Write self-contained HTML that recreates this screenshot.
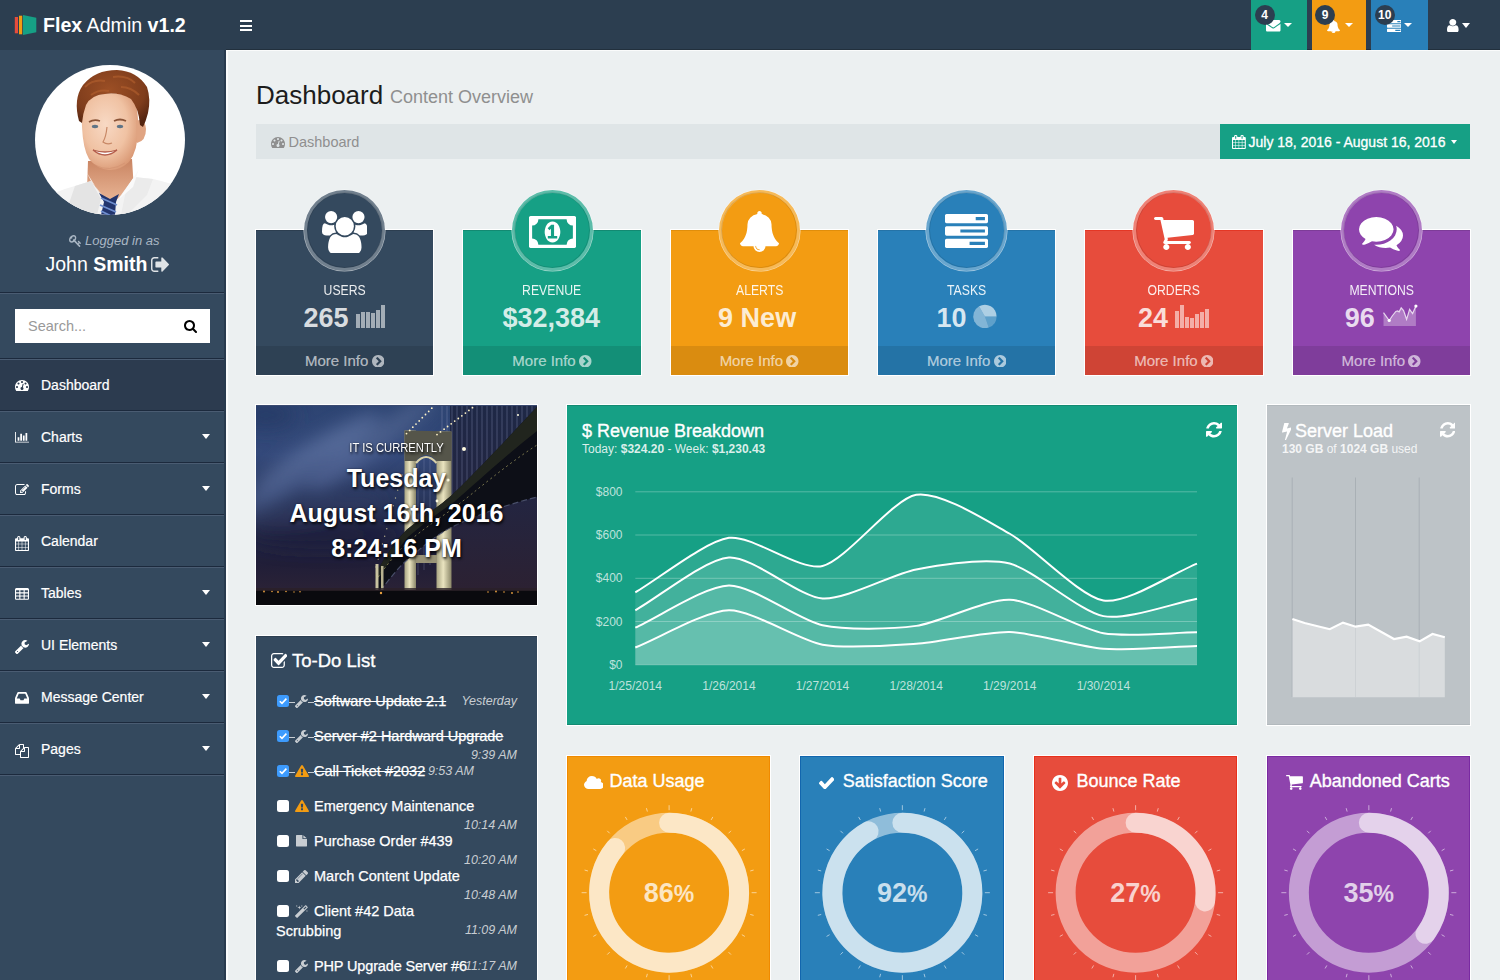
<!DOCTYPE html>
<html><head><meta charset="utf-8"><title>Flex Admin - Dashboard</title>
<style>
*{margin:0;padding:0;box-sizing:border-box}
html,body{width:1500px;height:980px;overflow:hidden;background:#ecf0f1;font-family:"Liberation Sans", Arial, sans-serif}
.a{position:absolute}
.t{position:absolute;white-space:nowrap;line-height:1}
#nav{position:absolute;left:0;top:0;width:1500px;height:50px;background:#2c3e50}
#side{position:absolute;left:0;top:50px;width:226px;height:930px;background:#34495e}
.sep{position:absolute;left:0;width:225px;height:1px;background:#2c3e50}
.sepl{position:absolute;left:0;width:225px;height:1px;background:#3d5166}
.mi{position:absolute;left:0;width:225px;height:52px}
.mi .lbl{position:absolute;left:41px;top:19px;font-size:14px;font-weight:700;color:#fff;line-height:1}
.caret{position:absolute;width:0;height:0;border-left:4.5px solid transparent;border-right:4.5px solid transparent;border-top:5px solid #fff}
</style></head>
<body>
<div id="nav"><svg class="a" style="left:0;top:0" width="40" height="50"><rect x="14.8" y="17" width="3.2" height="16.3" fill="#e74c3c"/><rect x="19" y="15.7" width="3.2" height="18.6" fill="#f39c12"/><polygon points="23,15 36.3,17.7 36.3,32.3 23,35" fill="#16a085"/></svg><div class="t" style="left:43px;top:15.5px;font-size:19.6px;color:#fff;letter-spacing:0"><b>Flex</b> <span style="font-weight:400">Admin</span> <b>v1.2</b></div><div class="a" style="left:240px;top:20px;width:12px;height:2px;background:#fff"></div><div class="a" style="left:240px;top:24.5px;width:12px;height:2px;background:#fff"></div><div class="a" style="left:240px;top:29px;width:12px;height:2px;background:#fff"></div><div class="a" style="left:226px;top:48.5px;width:1274px;height:1.5px;background:#22303d"></div><div class="a" style="left:1251px;top:0;width:56.2px;height:50px;background:#16a085"></div><svg style="position:absolute;left:1266.20px;top:20.00px;width:14.50px;height:11.60px;" viewBox="0 256 1792 1408" preserveAspectRatio="none"><path fill="#fff" d="M1792 710V1504Q1792 1570 1745 1617Q1698 1664 1632 1664H160Q94 1664 47 1617Q0 1570 0 1504V710Q44 759 101 797Q463 1043 598 1142Q655 1184 690 1208Q726 1231 785 1256Q844 1280 895 1280H896H897Q948 1280 1007 1256Q1066 1231 1102 1208Q1137 1184 1194 1142Q1364 1019 1692 797Q1749 758 1792 710ZM1792 416Q1792 495 1743 567Q1694 639 1621 690Q1245 951 1153 1015Q1143 1022 1110 1046Q1078 1069 1056 1084Q1035 1098 1004 1116Q974 1134 947 1143Q920 1152 897 1152H896H895Q872 1152 845 1143Q818 1134 788 1116Q757 1098 736 1084Q714 1069 682 1046Q649 1022 639 1015Q548 951 377 832Q206 714 172 690Q110 648 55 574Q0 501 0 438Q0 360 42 308Q83 256 160 256H1632Q1697 256 1744 303Q1792 350 1792 416Z"/></svg><div class="a" style="left:1284px;top:23.2px;width:0;height:0;border-left:4.25px solid transparent;border-right:4.25px solid transparent;border-top:4.8px solid #fff"></div><div class="a" style="left:1254.5px;top:4.7px;width:20px;height:20px;border-radius:50%;background:#2c3e50;color:#fff;font-size:12px;font-weight:700;text-align:center;line-height:20px">4</div><div class="a" style="left:1311.7px;top:0;width:54.6px;height:50px;background:#f39c12"></div><svg style="position:absolute;left:1327.10px;top:19.50px;width:13.00px;height:13.00px;" viewBox="64 0.0 1664 1792.0" preserveAspectRatio="none"><path fill="#fff" d="M896 1680Q837 1680 794 1638Q752 1595 752 1536Q752 1520 736 1520Q720 1520 720 1536Q720 1609 772 1660Q823 1712 896 1712Q912 1712 912 1696Q912 1680 896 1680ZM1728 1408Q1728 1460 1690 1498Q1652 1536 1600 1536H1152Q1152 1642 1077 1717Q1002 1792 896 1792Q790 1792 715 1717Q640 1642 640 1536H192Q140 1536 102 1498Q64 1460 64 1408Q114 1366 155 1320Q196 1274 240 1200Q284 1127 314 1042Q345 957 364 836Q384 715 384 576Q384 424 501 294Q618 163 808 135Q800 116 800 96Q800 56 828 28Q856 0 896 0Q936 0 964 28Q992 56 992 96Q992 116 984 135Q1174 163 1291 294Q1408 424 1408 576Q1408 715 1428 836Q1447 957 1478 1042Q1508 1127 1552 1200Q1596 1274 1637 1320Q1678 1366 1728 1408Z"/></svg><div class="a" style="left:1344.7px;top:23.2px;width:0;height:0;border-left:4.25px solid transparent;border-right:4.25px solid transparent;border-top:4.8px solid #fff"></div><div class="a" style="left:1315.2px;top:4.7px;width:20px;height:20px;border-radius:50%;background:#2c3e50;color:#fff;font-size:12px;font-weight:700;text-align:center;line-height:20px">9</div><div class="a" style="left:1371.2px;top:0;width:56.4px;height:50px;background:#2980b9"></div><svg style="position:absolute;left:1386.70px;top:19.50px;width:14.50px;height:12.00px;" viewBox="0 128 1792 1408" preserveAspectRatio="none"><path fill="#fff" d="M1024 1408H1664V1280H1024ZM640 896H1664V768H640ZM1280 384H1664V256H1280ZM1792 1216V1472Q1792 1498 1773 1517Q1754 1536 1728 1536H64Q38 1536 19 1517Q0 1498 0 1472V1216Q0 1190 19 1171Q38 1152 64 1152H1728Q1754 1152 1773 1171Q1792 1190 1792 1216ZM1792 704V960Q1792 986 1773 1005Q1754 1024 1728 1024H64Q38 1024 19 1005Q0 986 0 960V704Q0 678 19 659Q38 640 64 640H1728Q1754 640 1773 659Q1792 678 1792 704ZM1792 192V448Q1792 474 1773 493Q1754 512 1728 512H64Q38 512 19 493Q0 474 0 448V192Q0 166 19 147Q38 128 64 128H1728Q1754 128 1773 147Q1792 166 1792 192Z"/></svg><div class="a" style="left:1404.2px;top:23.2px;width:0;height:0;border-left:4.25px solid transparent;border-right:4.25px solid transparent;border-top:4.8px solid #fff"></div><div class="a" style="left:1374.7px;top:4.7px;width:20px;height:20px;border-radius:50%;background:#2c3e50;color:#fff;font-size:12px;font-weight:700;text-align:center;line-height:20px">10</div><svg style="position:absolute;left:1447.00px;top:18.60px;width:11.60px;height:13.40px;" viewBox="0 128.0 1280 1536.0" preserveAspectRatio="none"><path fill="#fff" d="M1280 1399Q1280 1508 1218 1586Q1155 1664 1067 1664H213Q125 1664 62 1586Q0 1508 0 1399Q0 1314 8 1238Q17 1163 40 1086Q63 1010 98 956Q134 901 192 866Q251 832 327 832Q458 960 640 960Q822 960 953 832Q1029 832 1088 866Q1146 901 1182 956Q1217 1010 1240 1086Q1263 1163 1272 1238Q1280 1314 1280 1399ZM912 240Q1024 353 1024 512Q1024 671 912 784Q799 896 640 896Q481 896 368 784Q256 671 256 512Q256 353 368 240Q481 128 640 128Q799 128 912 240Z"/></svg><div class="a" style="left:1462px;top:23px;width:0;height:0;border-left:4.25px solid transparent;border-right:4.25px solid transparent;border-top:5px solid #fff"></div></div><div id="side"></div><svg class="a" style="left:35px;top:65px" width="150" height="150" viewBox="0 0 150 150">
<defs><clipPath id="cc"><circle cx="75" cy="75" r="75"/></clipPath>
<radialGradient id="sk" cx="0.42" cy="0.4" r="0.65"><stop offset="0" stop-color="#f8d9c4"/><stop offset="0.6" stop-color="#f0c2a3"/><stop offset="1" stop-color="#d99773"/></radialGradient>
<linearGradient id="nk" x1="0" y1="0" x2="0" y2="1"><stop offset="0" stop-color="#c98462"/><stop offset="1" stop-color="#eab797"/></linearGradient>
<radialGradient id="hr" cx="0.45" cy="0.35" r="0.7"><stop offset="0" stop-color="#9c4f25"/><stop offset="0.7" stop-color="#7f3d1c"/><stop offset="1" stop-color="#552510"/></radialGradient>
<filter id="sb"><feGaussianBlur stdDeviation="0.6"/></filter></defs>
<g clip-path="url(#cc)">
<rect width="150" height="150" fill="#fff"/>
<path d="M53 96 L97 94 L99 126 L75 138 L52 124Z" fill="url(#nk)"/>
<path d="M0 150 L6 136 Q20 126 40 121 L56 116 L68 132 L76 142 L86 130 L99 112 L118 114 Q136 118 150 124 L150 150Z" fill="#f3f3f3"/>
<path d="M40 121 L56 116 L66 134 L62 150 L30 150Z" fill="#e4e4e4"/>
<path d="M99 112 L118 114 L112 130 L92 150 L86 150 L90 130Z" fill="#ebebeb"/>
<path d="M56 116 L52 108 L62 124 L72 136Z" fill="#fafafa"/>
<path d="M99 112 L104 104 L98 122 L84 134Z" fill="#fafafa"/>
<path d="M64 128 L75 134 L84 129 L81 137 L80 150 L66 150 L69 137Z" fill="#22356e"/>
<path d="M66 133 L82 140 M65 140 L81 147 M66 146 L78 152" stroke="#6f8fd0" stroke-width="1.8"/>
<path d="M47 62 Q45 36 62 30 Q80 26 96 32 Q104 40 103 64 Q103 86 94 97 Q84 106 74 105 Q62 104 54 94 Q48 84 47 62Z" fill="url(#sk)"/>
<path d="M101 56 Q110 52 111 64 Q111 76 102 78Z" fill="#e0a482"/>
<path d="M44 56 Q38 34 48 20 Q60 5 82 5 Q102 6 112 22 Q116 34 113 48 Q111 56 108 62 L105 60 Q104 44 96 34 Q84 27 70 29 Q56 30 51 40 Q48 48 47 58Z" fill="url(#hr)"/>
<path d="M50 22 Q58 14 70 16 M78 12 Q92 10 100 18 M56 30 Q64 24 74 26 M86 22 Q96 22 104 30" stroke="#b4602e" stroke-width="2" fill="none" opacity="0.6"/>
<path d="M54 57 Q59 54 65 56" stroke="#8a5438" stroke-width="1.8" fill="none"/>
<path d="M79 56 Q85 53 91 56" stroke="#8a5438" stroke-width="1.8" fill="none"/>
<ellipse cx="60" cy="61.5" rx="3.2" ry="1.7" fill="#5f7486"/><ellipse cx="85" cy="61.5" rx="3.2" ry="1.7" fill="#5f7486"/>
<path d="M72 62 Q71 72 68 77 Q72 80 77 78" stroke="#c88866" stroke-width="1.2" fill="none"/>
<path d="M58 85 Q70 95 82 85 Q70 89 58 85Z" fill="#fff" stroke="#b45e4c" stroke-width="1.3"/>
<path d="M60 100 Q74 108 90 98" stroke="#d09070" stroke-width="1" fill="none" opacity="0.6"/>
</g></svg><svg style="position:absolute;left:69.00px;top:234.50px;width:12.00px;height:12.00px;" viewBox="0 128 1683 1592" preserveAspectRatio="none"><path fill="#a9b6c3" d="M448 512Q448 554 467 595Q426 576 384 576Q304 576 248 632Q192 688 192 768Q192 848 248 904Q304 960 384 960Q464 960 520 904Q576 848 576 768Q576 726 557 685Q598 704 640 704Q720 704 776 648Q832 592 832 512Q832 432 776 376Q720 320 640 320Q560 320 504 376Q448 432 448 512ZM1683 1216Q1683 1233 1634 1282Q1585 1331 1568 1331Q1559 1331 1540 1315Q1520 1299 1503 1282Q1486 1265 1464 1242Q1443 1219 1440 1216L1344 1312L1564 1532Q1592 1560 1592 1600Q1592 1642 1553 1681Q1514 1720 1472 1720Q1432 1720 1404 1692L733 1021Q557 1152 368 1152Q205 1152 102 1050Q0 947 0 784Q0 624 95 471Q190 318 343 223Q496 128 656 128Q819 128 922 230Q1024 333 1024 496Q1024 685 893 861L1248 1216L1344 1120Q1341 1117 1318 1096Q1295 1074 1278 1057Q1261 1040 1245 1020Q1229 1001 1229 992Q1229 975 1278 926Q1327 877 1344 877Q1357 877 1367 887Q1373 893 1413 932Q1453 970 1495 1011Q1537 1052 1582 1097Q1626 1142 1654 1175Q1683 1208 1683 1216Z"/></svg><div class="t" style="left:85px;top:233.5px;font-size:13px;font-style:italic;color:#a9b6c3">Logged in as</div><div class="t" style="left:45.5px;top:254.5px;font-size:19.5px;color:#fff"><span>John</span> <b>Smith</b></div><svg style="position:absolute;left:151.00px;top:256.50px;width:18.00px;height:15.00px;" viewBox="0 256 1568.0 1280" preserveAspectRatio="none"><path fill="#dfe3e6" d="M640 1440Q640 1444 641 1460Q642 1476 642 1486Q641 1497 638 1510Q636 1523 628 1530Q621 1536 608 1536H288Q169 1536 84 1452Q0 1367 0 1248V544Q0 425 84 340Q169 256 288 256H608Q621 256 630 266Q640 275 640 288Q640 292 641 308Q642 324 642 334Q641 345 638 358Q636 371 628 378Q621 384 608 384H288Q222 384 175 431Q128 478 128 544V1248Q128 1314 175 1361Q222 1408 288 1408H576Q577 1408 587 1408Q597 1408 600 1408Q603 1408 612 1409Q620 1410 623 1412Q626 1414 631 1418Q636 1421 638 1426Q640 1432 640 1440ZM1549 941 1005 1485Q986 1504 960 1504Q934 1504 915 1485Q896 1466 896 1440V1152H448Q422 1152 403 1133Q384 1114 384 1088V704Q384 678 403 659Q422 640 448 640H896V352Q896 326 915 307Q934 288 960 288Q986 288 1005 307L1549 851Q1568 870 1568 896Q1568 922 1549 941Z"/></svg><div class="a" style="left:0;top:292px;width:225px;height:1px;background:#1c2a3d"></div><div class="a" style="left:0;top:293px;width:225px;height:1px;background:#4a5c72"></div><div class="a" style="left:15px;top:309px;width:195px;height:34px;background:#fff"></div><div class="t" style="left:28px;top:318.5px;font-size:14.5px;color:#999">Search...</div><svg style="position:absolute;left:184.00px;top:320.00px;width:13.00px;height:13.00px;" viewBox="0.0 128.0 1664.0 1664.0" preserveAspectRatio="none"><path fill="#000" d="M1020 1148Q1152 1017 1152 832Q1152 647 1020 516Q889 384 704 384Q519 384 388 516Q256 647 256 832Q256 1017 388 1148Q519 1280 704 1280Q889 1280 1020 1148ZM1664 1664Q1664 1716 1626 1754Q1588 1792 1536 1792Q1482 1792 1446 1754L1103 1412Q924 1536 704 1536Q561 1536 430 1480Q300 1425 206 1330Q111 1236 56 1106Q0 975 0 832Q0 689 56 558Q111 428 206 334Q300 239 430 184Q561 128 704 128Q847 128 978 184Q1108 239 1202 334Q1297 428 1352 558Q1408 689 1408 832Q1408 1052 1284 1231L1627 1574Q1664 1611 1664 1664Z"/></svg><div class="a" style="left:0;top:360px;width:225px;height:50px;background:#2c3b4f"></div><div class="a" style="left:0;top:358px;width:225px;height:1px;background:#1c2a3d"></div><div class="a" style="left:0;top:359px;width:225px;height:1px;background:#4a5c72"></div><div class="t" style="left:41.00px;top:378.45px;font-size:14px;color:#fff;font-weight:400;font-style:normal;-webkit-text-stroke:0.2px #fff">Dashboard</div><svg style="position:absolute;left:14.50px;top:380.00px;width:14.00px;height:11.00px;" viewBox="0 256.0 1792 1408.0" preserveAspectRatio="none"><path fill="#fff" d="M346 1242Q384 1205 384 1152Q384 1099 346 1062Q309 1024 256 1024Q203 1024 166 1062Q128 1099 128 1152Q128 1205 166 1242Q203 1280 256 1280Q309 1280 346 1242ZM538 794Q576 757 576 704Q576 651 538 614Q501 576 448 576Q395 576 358 614Q320 651 320 704Q320 757 358 794Q395 832 448 832Q501 832 538 794ZM1004 1185 1105 803Q1111 777 1098 754Q1084 732 1059 725Q1034 718 1011 732Q988 745 981 771L880 1153Q820 1158 773 1196Q726 1235 710 1295Q690 1372 730 1441Q770 1510 847 1530Q924 1550 993 1510Q1062 1470 1082 1393Q1098 1333 1076 1276Q1054 1219 1004 1185ZM1626 1242Q1664 1205 1664 1152Q1664 1099 1626 1062Q1589 1024 1536 1024Q1483 1024 1446 1062Q1408 1099 1408 1152Q1408 1205 1446 1242Q1483 1280 1536 1280Q1589 1280 1626 1242ZM986 602Q1024 565 1024 512Q1024 459 986 422Q949 384 896 384Q843 384 806 422Q768 459 768 512Q768 565 806 602Q843 640 896 640Q949 640 986 602ZM1434 794Q1472 757 1472 704Q1472 651 1434 614Q1397 576 1344 576Q1291 576 1254 614Q1216 651 1216 704Q1216 757 1254 794Q1291 832 1344 832Q1397 832 1434 794ZM1792 1152Q1792 1413 1651 1635Q1632 1664 1597 1664H195Q160 1664 141 1635Q0 1414 0 1152Q0 970 71 804Q142 638 262 518Q382 398 548 327Q714 256 896 256Q1078 256 1244 327Q1410 398 1530 518Q1650 638 1721 804Q1792 970 1792 1152Z"/></svg><div class="a" style="left:0;top:410px;width:225px;height:1px;background:#1c2a3d"></div><div class="a" style="left:0;top:411px;width:225px;height:1px;background:#4a5c72"></div><div class="t" style="left:41.00px;top:430.45px;font-size:14px;color:#fff;font-weight:400;font-style:normal;-webkit-text-stroke:0.2px #fff">Charts</div><svg style="position:absolute;left:14.50px;top:432.00px;width:14.00px;height:10.50px;" viewBox="0 128 2048 1536" preserveAspectRatio="none"><path fill="#fff" d="M640 896V1408H384V896ZM1024 384V1408H768V384ZM2048 1536V1664H0V128H128V1536ZM1408 640V1408H1152V640ZM1792 256V1408H1536V256Z"/></svg><div class="a" style="left:202px;top:433.5px;width:0;height:0;border-left:4.5px solid transparent;border-right:4.5px solid transparent;border-top:5px solid #fff"></div><div class="a" style="left:0;top:462px;width:225px;height:1px;background:#1c2a3d"></div><div class="a" style="left:0;top:463px;width:225px;height:1px;background:#4a5c72"></div><div class="t" style="left:41.00px;top:482.45px;font-size:14px;color:#fff;font-weight:400;font-style:normal;-webkit-text-stroke:0.2px #fff">Forms</div><svg style="position:absolute;left:14.50px;top:484.00px;width:14.00px;height:11.05px;" viewBox="0 128 1784.0 1408" preserveAspectRatio="none"><path fill="#fff" d="M888 1184 1004 1068 852 916 736 1032V1088H832V1184ZM1295 465 945 815Q928 832 944 848Q960 864 977 847L1327 497Q1344 480 1328 464Q1312 448 1295 465ZM1408 1058V1248Q1408 1367 1324 1452Q1239 1536 1120 1536H288Q169 1536 84 1452Q0 1367 0 1248V416Q0 297 84 212Q169 128 288 128H1120Q1183 128 1237 153Q1252 160 1255 176Q1258 193 1246 205L1197 254Q1183 268 1165 262Q1142 256 1120 256H288Q222 256 175 303Q128 350 128 416V1248Q128 1314 175 1361Q222 1408 288 1408H1120Q1186 1408 1233 1361Q1280 1314 1280 1248V1122Q1280 1109 1289 1100L1353 1036Q1368 1021 1388 1029Q1408 1037 1408 1058ZM1312 320 1600 608 928 1280H640V992ZM1756 452 1664 544 1376 256 1468 164Q1496 136 1536 136Q1576 136 1604 164L1756 316Q1784 344 1784 384Q1784 424 1756 452Z"/></svg><div class="a" style="left:202px;top:485.5px;width:0;height:0;border-left:4.5px solid transparent;border-right:4.5px solid transparent;border-top:5px solid #fff"></div><div class="a" style="left:0;top:514px;width:225px;height:1px;background:#1c2a3d"></div><div class="a" style="left:0;top:515px;width:225px;height:1px;background:#4a5c72"></div><div class="t" style="left:41.00px;top:534.45px;font-size:14px;color:#fff;font-weight:400;font-style:normal;-webkit-text-stroke:0.2px #fff">Calendar</div><svg style="position:absolute;left:14.50px;top:536.00px;width:14.00px;height:15.08px;" viewBox="0 0 1664 1792" preserveAspectRatio="none"><path fill="#fff" d="M128 1664H416V1376H128ZM480 1664H800V1376H480ZM128 1312H416V992H128ZM480 1312H800V992H480ZM128 928H416V640H128ZM864 1664H1184V1376H864ZM480 928H800V640H480ZM1248 1664H1536V1376H1248ZM864 1312H1184V992H864ZM512 448V160Q512 147 502 138Q493 128 480 128H416Q403 128 394 138Q384 147 384 160V448Q384 461 394 470Q403 480 416 480H480Q493 480 502 470Q512 461 512 448ZM1248 1312H1536V992H1248ZM864 928H1184V640H864ZM1248 928H1536V640H1248ZM1280 448V160Q1280 147 1270 138Q1261 128 1248 128H1184Q1171 128 1162 138Q1152 147 1152 160V448Q1152 461 1162 470Q1171 480 1184 480H1248Q1261 480 1270 470Q1280 461 1280 448ZM1664 384V1664Q1664 1716 1626 1754Q1588 1792 1536 1792H128Q76 1792 38 1754Q0 1716 0 1664V384Q0 332 38 294Q76 256 128 256H256V160Q256 94 303 47Q350 0 416 0H480Q546 0 593 47Q640 94 640 160V256H1024V160Q1024 94 1071 47Q1118 0 1184 0H1248Q1314 0 1361 47Q1408 94 1408 160V256H1536Q1588 256 1626 294Q1664 332 1664 384Z"/></svg><div class="a" style="left:0;top:566px;width:225px;height:1px;background:#1c2a3d"></div><div class="a" style="left:0;top:567px;width:225px;height:1px;background:#4a5c72"></div><div class="t" style="left:41.00px;top:586.45px;font-size:14px;color:#fff;font-weight:400;font-style:normal;-webkit-text-stroke:0.2px #fff">Tables</div><svg style="position:absolute;left:14.50px;top:588.00px;width:14.00px;height:11.85px;" viewBox="0 128 1664 1408" preserveAspectRatio="none"><path fill="#fff" d="M512 1376V1184Q512 1170 503 1161Q494 1152 480 1152H160Q146 1152 137 1161Q128 1170 128 1184V1376Q128 1390 137 1399Q146 1408 160 1408H480Q494 1408 503 1399Q512 1390 512 1376ZM512 992V800Q512 786 503 777Q494 768 480 768H160Q146 768 137 777Q128 786 128 800V992Q128 1006 137 1015Q146 1024 160 1024H480Q494 1024 503 1015Q512 1006 512 992ZM1024 1376V1184Q1024 1170 1015 1161Q1006 1152 992 1152H672Q658 1152 649 1161Q640 1170 640 1184V1376Q640 1390 649 1399Q658 1408 672 1408H992Q1006 1408 1015 1399Q1024 1390 1024 1376ZM512 608V416Q512 402 503 393Q494 384 480 384H160Q146 384 137 393Q128 402 128 416V608Q128 622 137 631Q146 640 160 640H480Q494 640 503 631Q512 622 512 608ZM1024 992V800Q1024 786 1015 777Q1006 768 992 768H672Q658 768 649 777Q640 786 640 800V992Q640 1006 649 1015Q658 1024 672 1024H992Q1006 1024 1015 1015Q1024 1006 1024 992ZM1536 1376V1184Q1536 1170 1527 1161Q1518 1152 1504 1152H1184Q1170 1152 1161 1161Q1152 1170 1152 1184V1376Q1152 1390 1161 1399Q1170 1408 1184 1408H1504Q1518 1408 1527 1399Q1536 1390 1536 1376ZM1024 608V416Q1024 402 1015 393Q1006 384 992 384H672Q658 384 649 393Q640 402 640 416V608Q640 622 649 631Q658 640 672 640H992Q1006 640 1015 631Q1024 622 1024 608ZM1536 992V800Q1536 786 1527 777Q1518 768 1504 768H1184Q1170 768 1161 777Q1152 786 1152 800V992Q1152 1006 1161 1015Q1170 1024 1184 1024H1504Q1518 1024 1527 1015Q1536 1006 1536 992ZM1536 608V416Q1536 402 1527 393Q1518 384 1504 384H1184Q1170 384 1161 393Q1152 402 1152 416V608Q1152 622 1161 631Q1170 640 1184 640H1504Q1518 640 1527 631Q1536 622 1536 608ZM1664 288V1376Q1664 1442 1617 1489Q1570 1536 1504 1536H160Q94 1536 47 1489Q0 1442 0 1376V288Q0 222 47 175Q94 128 160 128H1504Q1570 128 1617 175Q1664 222 1664 288Z"/></svg><div class="a" style="left:202px;top:589.5px;width:0;height:0;border-left:4.5px solid transparent;border-right:4.5px solid transparent;border-top:5px solid #fff"></div><div class="a" style="left:0;top:618px;width:225px;height:1px;background:#1c2a3d"></div><div class="a" style="left:0;top:619px;width:225px;height:1px;background:#4a5c72"></div><div class="t" style="left:41.00px;top:638.45px;font-size:14px;color:#fff;font-weight:400;font-style:normal;-webkit-text-stroke:0.2px #fff">UI Elements</div><svg style="position:absolute;left:14.50px;top:640.00px;width:14.00px;height:14.02px;" viewBox="21 128 1641 1643" preserveAspectRatio="none"><path fill="#fff" d="M365 1517Q384 1498 384 1472Q384 1446 365 1427Q346 1408 320 1408Q294 1408 275 1427Q256 1446 256 1472Q256 1498 275 1517Q294 1536 320 1536Q346 1536 365 1517ZM1028 1052 346 1734Q309 1771 256 1771Q204 1771 165 1734L59 1626Q21 1590 21 1536Q21 1483 59 1445L740 764Q779 862 854 938Q930 1013 1028 1052ZM1662 617Q1662 656 1639 723Q1592 857 1474 940Q1357 1024 1216 1024Q1031 1024 900 892Q768 761 768 576Q768 391 900 260Q1031 128 1216 128Q1274 128 1338 144Q1401 161 1445 191Q1461 202 1461 219Q1461 236 1445 247L1152 416V640L1345 747Q1350 744 1424 698Q1498 653 1560 618Q1621 582 1630 582Q1645 582 1654 592Q1662 602 1662 617Z"/></svg><div class="a" style="left:202px;top:641.5px;width:0;height:0;border-left:4.5px solid transparent;border-right:4.5px solid transparent;border-top:5px solid #fff"></div><div class="a" style="left:0;top:670px;width:225px;height:1px;background:#1c2a3d"></div><div class="a" style="left:0;top:671px;width:225px;height:1px;background:#4a5c72"></div><div class="t" style="left:41.00px;top:690.45px;font-size:14px;color:#fff;font-weight:400;font-style:normal;-webkit-text-stroke:0.2px #fff">Message Center</div><svg style="position:absolute;left:14.50px;top:692.00px;width:14.00px;height:11.67px;" viewBox="0 256 1536 1280" preserveAspectRatio="none"><path fill="#fff" d="M1023 960H1339Q1338 957 1336 952Q1335 946 1334 944L1122 448H414L202 944Q201 947 200 952Q198 958 197 960H513L608 1152H928ZM1536 990V1472Q1536 1498 1517 1517Q1498 1536 1472 1536H64Q38 1536 19 1517Q0 1498 0 1472V990Q0 928 25 867L263 315Q273 290 300 273Q326 256 352 256H1184Q1210 256 1236 273Q1263 290 1273 315L1511 867Q1536 928 1536 990Z"/></svg><div class="a" style="left:202px;top:693.5px;width:0;height:0;border-left:4.5px solid transparent;border-right:4.5px solid transparent;border-top:5px solid #fff"></div><div class="a" style="left:0;top:722px;width:225px;height:1px;background:#1c2a3d"></div><div class="a" style="left:0;top:723px;width:225px;height:1px;background:#4a5c72"></div><div class="t" style="left:41.00px;top:742.45px;font-size:14px;color:#fff;font-weight:400;font-style:normal;-webkit-text-stroke:0.2px #fff">Pages</div><svg style="position:absolute;left:14.50px;top:744.00px;width:14.00px;height:14.00px;" viewBox="0 0 1792 1792" preserveAspectRatio="none"><path fill="#fff" d="M1696 384Q1736 384 1764 412Q1792 440 1792 480V1696Q1792 1736 1764 1764Q1736 1792 1696 1792H736Q696 1792 668 1764Q640 1736 640 1696V1408H96Q56 1408 28 1380Q0 1352 0 1312V640Q0 600 20 552Q40 504 68 476L476 68Q504 40 552 20Q600 0 640 0H1056Q1096 0 1124 28Q1152 56 1152 96V424Q1220 384 1280 384ZM1152 597 853 896H1152ZM512 213 213 512H512ZM708 860 1024 544V128H640V544Q640 584 612 612Q584 640 544 640H128V1280H640V1024Q640 984 660 936Q680 888 708 860ZM1664 1664V512H1280V928Q1280 968 1252 996Q1224 1024 1184 1024H768V1664Z"/></svg><div class="a" style="left:202px;top:745.5px;width:0;height:0;border-left:4.5px solid transparent;border-right:4.5px solid transparent;border-top:5px solid #fff"></div><div class="a" style="left:0;top:774px;width:225px;height:1px;background:#1c2a3d"></div><div class="a" style="left:0;top:775px;width:225px;height:1px;background:#4a5c72"></div><div class="a" style="left:224px;top:50px;width:1.5px;height:930px;background:#283a4e"></div><div class="a" style="left:226.00px;top:50.00px;width:1274.00px;height:1.00px;background:#fafbfb;"></div><div class="a" style="left:226.00px;top:50.00px;width:1.50px;height:930.00px;background:#fbfcfc;"></div><div class="t" style="left:256.00px;top:81.59px;font-size:26px;color:#1c1c1c;font-weight:400;font-style:normal;">Dashboard</div><div class="t" style="left:390.00px;top:88.36px;font-size:18px;color:#8f8f8f;font-weight:400;font-style:normal;">Content Overview</div><div class="a" style="left:256.00px;top:124.00px;width:964.00px;height:35.00px;background:#dfe5e7;"></div><svg style="position:absolute;left:271.00px;top:137.00px;width:14.00px;height:11.00px;" viewBox="0 256.0 1792 1408.0" preserveAspectRatio="none"><path fill="#8f8f8f" d="M346 1242Q384 1205 384 1152Q384 1099 346 1062Q309 1024 256 1024Q203 1024 166 1062Q128 1099 128 1152Q128 1205 166 1242Q203 1280 256 1280Q309 1280 346 1242ZM538 794Q576 757 576 704Q576 651 538 614Q501 576 448 576Q395 576 358 614Q320 651 320 704Q320 757 358 794Q395 832 448 832Q501 832 538 794ZM1004 1185 1105 803Q1111 777 1098 754Q1084 732 1059 725Q1034 718 1011 732Q988 745 981 771L880 1153Q820 1158 773 1196Q726 1235 710 1295Q690 1372 730 1441Q770 1510 847 1530Q924 1550 993 1510Q1062 1470 1082 1393Q1098 1333 1076 1276Q1054 1219 1004 1185ZM1626 1242Q1664 1205 1664 1152Q1664 1099 1626 1062Q1589 1024 1536 1024Q1483 1024 1446 1062Q1408 1099 1408 1152Q1408 1205 1446 1242Q1483 1280 1536 1280Q1589 1280 1626 1242ZM986 602Q1024 565 1024 512Q1024 459 986 422Q949 384 896 384Q843 384 806 422Q768 459 768 512Q768 565 806 602Q843 640 896 640Q949 640 986 602ZM1434 794Q1472 757 1472 704Q1472 651 1434 614Q1397 576 1344 576Q1291 576 1254 614Q1216 651 1216 704Q1216 757 1254 794Q1291 832 1344 832Q1397 832 1434 794ZM1792 1152Q1792 1413 1651 1635Q1632 1664 1597 1664H195Q160 1664 141 1635Q0 1414 0 1152Q0 970 71 804Q142 638 262 518Q382 398 548 327Q714 256 896 256Q1078 256 1244 327Q1410 398 1530 518Q1650 638 1721 804Q1792 970 1792 1152Z"/></svg><div class="t" style="left:288.50px;top:134.73px;font-size:14.5px;color:#8f8f8f;font-weight:400;font-style:normal;">Dashboard</div><div class="a" style="left:1220.00px;top:123.50px;width:250.00px;height:35.50px;background:#16a085;"></div><svg style="position:absolute;left:1232.00px;top:134.80px;width:13.80px;height:14.00px;" viewBox="0 0 1664 1792" preserveAspectRatio="none"><path fill="#fff" d="M128 1664H416V1376H128ZM480 1664H800V1376H480ZM128 1312H416V992H128ZM480 1312H800V992H480ZM128 928H416V640H128ZM864 1664H1184V1376H864ZM480 928H800V640H480ZM1248 1664H1536V1376H1248ZM864 1312H1184V992H864ZM512 448V160Q512 147 502 138Q493 128 480 128H416Q403 128 394 138Q384 147 384 160V448Q384 461 394 470Q403 480 416 480H480Q493 480 502 470Q512 461 512 448ZM1248 1312H1536V992H1248ZM864 928H1184V640H864ZM1248 928H1536V640H1248ZM1280 448V160Q1280 147 1270 138Q1261 128 1248 128H1184Q1171 128 1162 138Q1152 147 1152 160V448Q1152 461 1162 470Q1171 480 1184 480H1248Q1261 480 1270 470Q1280 461 1280 448ZM1664 384V1664Q1664 1716 1626 1754Q1588 1792 1536 1792H128Q76 1792 38 1754Q0 1716 0 1664V384Q0 332 38 294Q76 256 128 256H256V160Q256 94 303 47Q350 0 416 0H480Q546 0 593 47Q640 94 640 160V256H1024V160Q1024 94 1071 47Q1118 0 1184 0H1248Q1314 0 1361 47Q1408 94 1408 160V256H1536Q1588 256 1626 294Q1664 332 1664 384Z"/></svg><div class="t" style="left:1248.50px;top:134.75px;font-size:14px;color:#fff;font-weight:400;font-style:normal;-webkit-text-stroke:0.3px #fff">July 18, 2016 - August 16, 2016</div><div class="a" style="left:1450.5px;top:139.7px;width:0;height:0;border-left:3.75px solid transparent;border-right:3.75px solid transparent;border-top:4.5px solid #fff"></div><div class="a" style="left:256.00px;top:230.00px;width:177.33px;height:145.00px;background:#34495e;box-shadow:0 0 0 1px #fff;border-top:1px solid #2c3e50"></div><div class="a" style="left:256.00px;top:346.00px;width:177.33px;height:29.00px;background:rgba(0,0,0,0.1);"></div><div class="a" style="left:304.17px;top:189.50px;width:81.00px;height:81.00px;background:#34495e;border-radius:50%;border:3.5px solid rgba(255,255,255,0.3);box-shadow:0 0 0 0.6px rgba(255,255,255,0.6)"></div><div class="a" style="left:307.67px;top:193.00px;width:74.00px;height:74.00px;background:transparent;border-radius:50%;box-shadow:0 0 0 0.8px rgba(0,0,0,0.12)"></div><svg style="position:absolute;left:321.87px;top:210.60px;width:45.60px;height:42.80px;" viewBox="0 0.0 1920 1792.0" preserveAspectRatio="none"><path fill="#fff" d="M593 896Q431 901 328 1024H194Q112 1024 56 984Q0 943 0 865Q0 512 124 512Q130 512 168 533Q205 554 265 576Q325 597 384 597Q451 597 517 574Q512 611 512 640Q512 779 593 896ZM1664 1533Q1664 1653 1591 1722Q1518 1792 1397 1792H523Q402 1792 329 1722Q256 1653 256 1533Q256 1480 260 1430Q263 1379 274 1320Q284 1262 300 1212Q316 1162 343 1114Q370 1067 405 1034Q440 1000 490 980Q541 960 602 960Q612 960 645 982Q678 1003 718 1030Q758 1056 825 1078Q892 1099 960 1099Q1028 1099 1095 1078Q1162 1056 1202 1030Q1242 1003 1275 982Q1308 960 1318 960Q1379 960 1430 980Q1480 1000 1515 1034Q1550 1067 1577 1114Q1604 1162 1620 1212Q1636 1262 1646 1320Q1657 1379 1660 1430Q1664 1480 1664 1533ZM565 75Q640 150 640 256Q640 362 565 437Q490 512 384 512Q278 512 203 437Q128 362 128 256Q128 150 203 75Q278 0 384 0Q490 0 565 75ZM1232 368Q1344 481 1344 640Q1344 799 1232 912Q1119 1024 960 1024Q801 1024 688 912Q576 799 576 640Q576 481 688 368Q801 256 960 256Q1119 256 1232 368ZM1920 865Q1920 943 1864 984Q1808 1024 1726 1024H1592Q1489 901 1327 896Q1408 779 1408 640Q1408 611 1403 574Q1469 597 1536 597Q1595 597 1655 576Q1715 554 1752 533Q1790 512 1796 512Q1920 512 1920 865ZM1717 75Q1792 150 1792 256Q1792 362 1717 437Q1642 512 1536 512Q1430 512 1355 437Q1280 362 1280 256Q1280 150 1355 75Q1430 0 1536 0Q1642 0 1717 75Z"/></svg><div class="t" style="left:256.00px;top:282.81px;font-size:14.4px;color:rgba(255,255,255,0.9);font-weight:400;font-style:normal;width:177.33px;text-align:center;transform:scaleX(0.85);transform-origin:50% 50%">USERS</div><div class="t" style="left:303.50px;top:304.64px;font-size:27px;color:rgba(255,255,255,0.82);font-weight:700;font-style:normal;">265</div><div class="t" style="left:248.00px;top:353.30px;font-size:15px;color:rgba(255,255,255,0.62);font-weight:400;font-style:normal;width:177.33px;text-align:center;-webkit-text-stroke:0.2px rgba(255,255,255,0.62)">More Info</div><svg style="position:absolute;left:371.67px;top:354.50px;width:12.50px;height:12.50px;" viewBox="0.0 128.0 1536.0 1536.0" preserveAspectRatio="none"><path fill="rgba(255,255,255,0.62)" d="M717 1395 1171 941Q1190 922 1190 896Q1190 870 1171 851L717 397Q698 378 672 378Q646 378 627 397L525 499Q506 518 506 544Q506 570 525 589L832 896L525 1203Q506 1222 506 1248Q506 1274 525 1293L627 1395Q646 1414 672 1414Q698 1414 717 1395ZM1433 510Q1536 687 1536 896Q1536 1105 1433 1282Q1330 1458 1154 1561Q977 1664 768 1664Q559 1664 382 1561Q206 1458 103 1282Q0 1105 0 896Q0 687 103 510Q206 334 382 231Q559 128 768 128Q977 128 1154 231Q1330 334 1433 510Z"/></svg><div class="a" style="left:463.33px;top:230.00px;width:177.33px;height:145.00px;background:#16a085;box-shadow:0 0 0 1px #fff;border-top:1px solid #138a72"></div><div class="a" style="left:463.33px;top:346.00px;width:177.33px;height:29.00px;background:rgba(0,0,0,0.1);"></div><div class="a" style="left:511.50px;top:189.50px;width:81.00px;height:81.00px;background:#16a085;border-radius:50%;border:3.5px solid rgba(255,255,255,0.3);box-shadow:0 0 0 0.6px rgba(255,255,255,0.6)"></div><div class="a" style="left:515.00px;top:193.00px;width:74.00px;height:74.00px;background:transparent;border-radius:50%;box-shadow:0 0 0 0.8px rgba(0,0,0,0.12)"></div><svg style="position:absolute;left:528.50px;top:216.00px;width:47.00px;height:32.00px;" viewBox="0 256 1920 1280" preserveAspectRatio="none"><path fill="#fff" d="M768 1152H1152V1056H1024V608H910L762 745L839 825Q881 788 894 768H896V1056H768ZM1259 754Q1280 826 1280 896Q1280 966 1259 1038Q1238 1110 1200 1172Q1161 1234 1098 1273Q1035 1312 960 1312Q885 1312 822 1273Q759 1234 720 1172Q682 1110 661 1038Q640 966 640 896Q640 826 661 754Q682 682 720 620Q759 558 822 519Q885 480 960 480Q1035 480 1098 519Q1161 558 1200 620Q1238 682 1259 754ZM1792 1152V640Q1686 640 1611 565Q1536 490 1536 384H384Q384 490 309 565Q234 640 128 640V1152Q234 1152 309 1227Q384 1302 384 1408H1536Q1536 1302 1611 1227Q1686 1152 1792 1152ZM1920 320V1472Q1920 1498 1901 1517Q1882 1536 1856 1536H64Q38 1536 19 1517Q0 1498 0 1472V320Q0 294 19 275Q38 256 64 256H1856Q1882 256 1901 275Q1920 294 1920 320Z"/></svg><div class="t" style="left:463.33px;top:282.81px;font-size:14.4px;color:rgba(255,255,255,0.9);font-weight:400;font-style:normal;width:177.33px;text-align:center;transform:scaleX(0.85);transform-origin:50% 50%">REVENUE</div><div class="t" style="left:502.50px;top:304.64px;font-size:27px;color:rgba(255,255,255,0.82);font-weight:700;font-style:normal;">$32,384</div><div class="t" style="left:455.33px;top:353.30px;font-size:15px;color:rgba(255,255,255,0.62);font-weight:400;font-style:normal;width:177.33px;text-align:center;-webkit-text-stroke:0.2px rgba(255,255,255,0.62)">More Info</div><svg style="position:absolute;left:579.00px;top:354.50px;width:12.50px;height:12.50px;" viewBox="0.0 128.0 1536.0 1536.0" preserveAspectRatio="none"><path fill="rgba(255,255,255,0.62)" d="M717 1395 1171 941Q1190 922 1190 896Q1190 870 1171 851L717 397Q698 378 672 378Q646 378 627 397L525 499Q506 518 506 544Q506 570 525 589L832 896L525 1203Q506 1222 506 1248Q506 1274 525 1293L627 1395Q646 1414 672 1414Q698 1414 717 1395ZM1433 510Q1536 687 1536 896Q1536 1105 1433 1282Q1330 1458 1154 1561Q977 1664 768 1664Q559 1664 382 1561Q206 1458 103 1282Q0 1105 0 896Q0 687 103 510Q206 334 382 231Q559 128 768 128Q977 128 1154 231Q1330 334 1433 510Z"/></svg><div class="a" style="left:670.66px;top:230.00px;width:177.33px;height:145.00px;background:#f39c12;box-shadow:0 0 0 1px #fff;border-top:1px solid #e08e0b"></div><div class="a" style="left:670.66px;top:346.00px;width:177.33px;height:29.00px;background:rgba(0,0,0,0.1);"></div><div class="a" style="left:718.83px;top:189.50px;width:81.00px;height:81.00px;background:#f39c12;border-radius:50%;border:3.5px solid rgba(255,255,255,0.3);box-shadow:0 0 0 0.6px rgba(255,255,255,0.6)"></div><div class="a" style="left:722.33px;top:193.00px;width:74.00px;height:74.00px;background:transparent;border-radius:50%;box-shadow:0 0 0 0.8px rgba(0,0,0,0.12)"></div><svg style="position:absolute;left:739.83px;top:210.50px;width:39.00px;height:41.00px;" viewBox="64 0.0 1664 1792.0" preserveAspectRatio="none"><path fill="#fff" d="M896 1680Q837 1680 794 1638Q752 1595 752 1536Q752 1520 736 1520Q720 1520 720 1536Q720 1609 772 1660Q823 1712 896 1712Q912 1712 912 1696Q912 1680 896 1680ZM1728 1408Q1728 1460 1690 1498Q1652 1536 1600 1536H1152Q1152 1642 1077 1717Q1002 1792 896 1792Q790 1792 715 1717Q640 1642 640 1536H192Q140 1536 102 1498Q64 1460 64 1408Q114 1366 155 1320Q196 1274 240 1200Q284 1127 314 1042Q345 957 364 836Q384 715 384 576Q384 424 501 294Q618 163 808 135Q800 116 800 96Q800 56 828 28Q856 0 896 0Q936 0 964 28Q992 56 992 96Q992 116 984 135Q1174 163 1291 294Q1408 424 1408 576Q1408 715 1428 836Q1447 957 1478 1042Q1508 1127 1552 1200Q1596 1274 1637 1320Q1678 1366 1728 1408Z"/></svg><div class="t" style="left:670.66px;top:282.81px;font-size:14.4px;color:rgba(255,255,255,0.9);font-weight:400;font-style:normal;width:177.33px;text-align:center;transform:scaleX(0.85);transform-origin:50% 50%">ALERTS</div><div class="t" style="left:718.10px;top:304.64px;font-size:27px;color:rgba(255,255,255,0.82);font-weight:700;font-style:normal;">9 New</div><div class="t" style="left:662.66px;top:353.30px;font-size:15px;color:rgba(255,255,255,0.62);font-weight:400;font-style:normal;width:177.33px;text-align:center;-webkit-text-stroke:0.2px rgba(255,255,255,0.62)">More Info</div><svg style="position:absolute;left:786.33px;top:354.50px;width:12.50px;height:12.50px;" viewBox="0.0 128.0 1536.0 1536.0" preserveAspectRatio="none"><path fill="rgba(255,255,255,0.62)" d="M717 1395 1171 941Q1190 922 1190 896Q1190 870 1171 851L717 397Q698 378 672 378Q646 378 627 397L525 499Q506 518 506 544Q506 570 525 589L832 896L525 1203Q506 1222 506 1248Q506 1274 525 1293L627 1395Q646 1414 672 1414Q698 1414 717 1395ZM1433 510Q1536 687 1536 896Q1536 1105 1433 1282Q1330 1458 1154 1561Q977 1664 768 1664Q559 1664 382 1561Q206 1458 103 1282Q0 1105 0 896Q0 687 103 510Q206 334 382 231Q559 128 768 128Q977 128 1154 231Q1330 334 1433 510Z"/></svg><div class="a" style="left:877.99px;top:230.00px;width:177.33px;height:145.00px;background:#2980b9;box-shadow:0 0 0 1px #fff;border-top:1px solid #2573a7"></div><div class="a" style="left:877.99px;top:346.00px;width:177.33px;height:29.00px;background:rgba(0,0,0,0.1);"></div><div class="a" style="left:926.15px;top:189.50px;width:81.00px;height:81.00px;background:#2980b9;border-radius:50%;border:3.5px solid rgba(255,255,255,0.3);box-shadow:0 0 0 0.6px rgba(255,255,255,0.6)"></div><div class="a" style="left:929.65px;top:193.00px;width:74.00px;height:74.00px;background:transparent;border-radius:50%;box-shadow:0 0 0 0.8px rgba(0,0,0,0.12)"></div><svg style="position:absolute;left:945.15px;top:213.50px;width:43.00px;height:34.00px;" viewBox="0 128 1792 1408" preserveAspectRatio="none"><path fill="#fff" d="M1024 1408H1664V1280H1024ZM640 896H1664V768H640ZM1280 384H1664V256H1280ZM1792 1216V1472Q1792 1498 1773 1517Q1754 1536 1728 1536H64Q38 1536 19 1517Q0 1498 0 1472V1216Q0 1190 19 1171Q38 1152 64 1152H1728Q1754 1152 1773 1171Q1792 1190 1792 1216ZM1792 704V960Q1792 986 1773 1005Q1754 1024 1728 1024H64Q38 1024 19 1005Q0 986 0 960V704Q0 678 19 659Q38 640 64 640H1728Q1754 640 1773 659Q1792 678 1792 704ZM1792 192V448Q1792 474 1773 493Q1754 512 1728 512H64Q38 512 19 493Q0 474 0 448V192Q0 166 19 147Q38 128 64 128H1728Q1754 128 1773 147Q1792 166 1792 192Z"/></svg><div class="t" style="left:877.99px;top:282.81px;font-size:14.4px;color:rgba(255,255,255,0.9);font-weight:400;font-style:normal;width:177.33px;text-align:center;transform:scaleX(0.85);transform-origin:50% 50%">TASKS</div><div class="t" style="left:936.50px;top:304.64px;font-size:27px;color:rgba(255,255,255,0.82);font-weight:700;font-style:normal;">10</div><div class="t" style="left:869.99px;top:353.30px;font-size:15px;color:rgba(255,255,255,0.62);font-weight:400;font-style:normal;width:177.33px;text-align:center;-webkit-text-stroke:0.2px rgba(255,255,255,0.62)">More Info</div><svg style="position:absolute;left:993.65px;top:354.50px;width:12.50px;height:12.50px;" viewBox="0.0 128.0 1536.0 1536.0" preserveAspectRatio="none"><path fill="rgba(255,255,255,0.62)" d="M717 1395 1171 941Q1190 922 1190 896Q1190 870 1171 851L717 397Q698 378 672 378Q646 378 627 397L525 499Q506 518 506 544Q506 570 525 589L832 896L525 1203Q506 1222 506 1248Q506 1274 525 1293L627 1395Q646 1414 672 1414Q698 1414 717 1395ZM1433 510Q1536 687 1536 896Q1536 1105 1433 1282Q1330 1458 1154 1561Q977 1664 768 1664Q559 1664 382 1561Q206 1458 103 1282Q0 1105 0 896Q0 687 103 510Q206 334 382 231Q559 128 768 128Q977 128 1154 231Q1330 334 1433 510Z"/></svg><div class="a" style="left:1085.32px;top:230.00px;width:177.33px;height:145.00px;background:#e74c3c;box-shadow:0 0 0 1px #fff;border-top:1px solid #e43725"></div><div class="a" style="left:1085.32px;top:346.00px;width:177.33px;height:29.00px;background:rgba(0,0,0,0.1);"></div><div class="a" style="left:1133.49px;top:189.50px;width:81.00px;height:81.00px;background:#e74c3c;border-radius:50%;border:3.5px solid rgba(255,255,255,0.3);box-shadow:0 0 0 0.6px rgba(255,255,255,0.6)"></div><div class="a" style="left:1136.99px;top:193.00px;width:74.00px;height:74.00px;background:transparent;border-radius:50%;box-shadow:0 0 0 0.8px rgba(0,0,0,0.12)"></div><svg style="position:absolute;left:1153.99px;top:217.00px;width:40.00px;height:33.00px;" viewBox="0.0 256 1664.0 1408.0" preserveAspectRatio="none"><path fill="#fff" d="M602 1446Q640 1484 640 1536Q640 1588 602 1626Q564 1664 512 1664Q460 1664 422 1626Q384 1588 384 1536Q384 1484 422 1446Q460 1408 512 1408Q564 1408 602 1446ZM1498 1446Q1536 1484 1536 1536Q1536 1588 1498 1626Q1460 1664 1408 1664Q1356 1664 1318 1626Q1280 1588 1280 1536Q1280 1484 1318 1446Q1356 1408 1408 1408Q1460 1408 1498 1446ZM1664 448V960Q1664 984 1648 1002Q1631 1021 1607 1024L563 1146Q576 1206 576 1216Q576 1232 552 1280H1472Q1498 1280 1517 1299Q1536 1318 1536 1344Q1536 1370 1517 1389Q1498 1408 1472 1408H448Q422 1408 403 1389Q384 1370 384 1344Q384 1333 392 1312Q400 1292 408 1276Q416 1261 430 1236Q443 1212 445 1207L268 384H64Q38 384 19 365Q0 346 0 320Q0 294 19 275Q38 256 64 256H320Q336 256 348 262Q361 269 368 278Q375 287 381 302Q387 318 389 328Q391 339 394 358Q398 377 399 384H1600Q1626 384 1645 403Q1664 422 1664 448Z"/></svg><div class="t" style="left:1085.32px;top:282.81px;font-size:14.4px;color:rgba(255,255,255,0.9);font-weight:400;font-style:normal;width:177.33px;text-align:center;transform:scaleX(0.85);transform-origin:50% 50%">ORDERS</div><div class="t" style="left:1138.10px;top:304.64px;font-size:27px;color:rgba(255,255,255,0.82);font-weight:700;font-style:normal;">24</div><div class="t" style="left:1077.32px;top:353.30px;font-size:15px;color:rgba(255,255,255,0.62);font-weight:400;font-style:normal;width:177.33px;text-align:center;-webkit-text-stroke:0.2px rgba(255,255,255,0.62)">More Info</div><svg style="position:absolute;left:1200.99px;top:354.50px;width:12.50px;height:12.50px;" viewBox="0.0 128.0 1536.0 1536.0" preserveAspectRatio="none"><path fill="rgba(255,255,255,0.62)" d="M717 1395 1171 941Q1190 922 1190 896Q1190 870 1171 851L717 397Q698 378 672 378Q646 378 627 397L525 499Q506 518 506 544Q506 570 525 589L832 896L525 1203Q506 1222 506 1248Q506 1274 525 1293L627 1395Q646 1414 672 1414Q698 1414 717 1395ZM1433 510Q1536 687 1536 896Q1536 1105 1433 1282Q1330 1458 1154 1561Q977 1664 768 1664Q559 1664 382 1561Q206 1458 103 1282Q0 1105 0 896Q0 687 103 510Q206 334 382 231Q559 128 768 128Q977 128 1154 231Q1330 334 1433 510Z"/></svg><div class="a" style="left:1292.65px;top:230.00px;width:177.33px;height:145.00px;background:#8e44ad;box-shadow:0 0 0 1px #fff;border-top:1px solid #7d3c98"></div><div class="a" style="left:1292.65px;top:346.00px;width:177.33px;height:29.00px;background:rgba(0,0,0,0.1);"></div><div class="a" style="left:1340.82px;top:189.50px;width:81.00px;height:81.00px;background:#8e44ad;border-radius:50%;border:3.5px solid rgba(255,255,255,0.3);box-shadow:0 0 0 0.6px rgba(255,255,255,0.6)"></div><div class="a" style="left:1344.32px;top:193.00px;width:74.00px;height:74.00px;background:transparent;border-radius:50%;box-shadow:0 0 0 0.8px rgba(0,0,0,0.12)"></div><svg style="position:absolute;left:1359.32px;top:216.50px;width:44.00px;height:34.00px;" viewBox="0 256.0 1792 1408.111111111111" preserveAspectRatio="none"><path fill="#fff" d="M704 1280Q618 1280 528 1264Q404 1352 250 1392Q214 1401 164 1408H161Q150 1408 140 1400Q131 1392 129 1379Q128 1376 128 1372Q128 1369 128 1366Q129 1363 130 1360Q132 1357 133 1355Q134 1353 136 1350Q139 1346 140 1344Q142 1343 145 1340Q148 1336 149 1335Q154 1329 172 1310Q190 1291 198 1280Q206 1270 220 1252Q235 1233 246 1213Q256 1193 266 1169Q142 1097 71 992Q0 887 0 768Q0 629 94 511Q188 393 350 324Q513 256 704 256Q895 256 1058 324Q1220 393 1314 511Q1408 629 1408 768Q1408 907 1314 1025Q1220 1143 1058 1212Q895 1280 704 1280ZM1792 1024Q1792 1144 1721 1248Q1650 1353 1526 1425Q1536 1449 1546 1469Q1557 1489 1572 1508Q1586 1526 1594 1536Q1602 1547 1620 1566Q1638 1585 1643 1591Q1644 1592 1647 1596Q1650 1599 1652 1600Q1653 1602 1656 1606Q1658 1609 1659 1611Q1660 1613 1662 1616Q1663 1619 1664 1622Q1664 1625 1664 1628Q1664 1632 1663 1635Q1660 1649 1650 1657Q1640 1665 1628 1664Q1578 1657 1542 1648Q1388 1608 1264 1520Q1174 1536 1088 1536Q817 1536 616 1404Q674 1408 704 1408Q865 1408 1013 1363Q1161 1318 1277 1234Q1402 1142 1469 1022Q1536 902 1536 768Q1536 691 1513 616Q1642 687 1717 794Q1792 901 1792 1024Z"/></svg><div class="t" style="left:1292.65px;top:282.81px;font-size:14.4px;color:rgba(255,255,255,0.9);font-weight:400;font-style:normal;width:177.33px;text-align:center;transform:scaleX(0.85);transform-origin:50% 50%">MENTIONS</div><div class="t" style="left:1344.80px;top:304.64px;font-size:27px;color:rgba(255,255,255,0.82);font-weight:700;font-style:normal;">96</div><div class="t" style="left:1284.65px;top:353.30px;font-size:15px;color:rgba(255,255,255,0.62);font-weight:400;font-style:normal;width:177.33px;text-align:center;-webkit-text-stroke:0.2px rgba(255,255,255,0.62)">More Info</div><svg style="position:absolute;left:1408.32px;top:354.50px;width:12.50px;height:12.50px;" viewBox="0.0 128.0 1536.0 1536.0" preserveAspectRatio="none"><path fill="rgba(255,255,255,0.62)" d="M717 1395 1171 941Q1190 922 1190 896Q1190 870 1171 851L717 397Q698 378 672 378Q646 378 627 397L525 499Q506 518 506 544Q506 570 525 589L832 896L525 1203Q506 1222 506 1248Q506 1274 525 1293L627 1395Q646 1414 672 1414Q698 1414 717 1395ZM1433 510Q1536 687 1536 896Q1536 1105 1433 1282Q1330 1458 1154 1561Q977 1664 768 1664Q559 1664 382 1561Q206 1458 103 1282Q0 1105 0 896Q0 687 103 510Q206 334 382 231Q559 128 768 128Q977 128 1154 231Q1330 334 1433 510Z"/></svg><div class="a" style="left:356.00px;top:314.30px;width:3.60px;height:14.00px;background:rgba(255,255,255,0.55);"></div><div class="a" style="left:361.00px;top:311.70px;width:3.60px;height:16.60px;background:rgba(255,255,255,0.55);"></div><div class="a" style="left:366.00px;top:311.70px;width:3.60px;height:16.60px;background:rgba(255,255,255,0.55);"></div><div class="a" style="left:371.00px;top:312.70px;width:3.60px;height:15.60px;background:rgba(255,255,255,0.55);"></div><div class="a" style="left:376.00px;top:309.70px;width:3.60px;height:18.60px;background:rgba(255,255,255,0.55);"></div><div class="a" style="left:381.30px;top:304.70px;width:3.60px;height:23.60px;background:rgba(255,255,255,0.55);"></div><div class="a" style="left:1175.00px;top:310.60px;width:3.60px;height:17.40px;background:rgba(255,255,255,0.55);"></div><div class="a" style="left:1180.10px;top:304.60px;width:3.60px;height:23.40px;background:rgba(255,255,255,0.55);"></div><div class="a" style="left:1185.20px;top:316.60px;width:3.60px;height:11.40px;background:rgba(255,255,255,0.55);"></div><div class="a" style="left:1190.20px;top:318.40px;width:3.60px;height:9.60px;background:rgba(255,255,255,0.55);"></div><div class="a" style="left:1195.10px;top:313.60px;width:3.60px;height:14.40px;background:rgba(255,255,255,0.55);"></div><div class="a" style="left:1200.10px;top:311.50px;width:3.60px;height:16.50px;background:rgba(255,255,255,0.55);"></div><div class="a" style="left:1205.10px;top:308.80px;width:3.60px;height:19.20px;background:rgba(255,255,255,0.55);"></div><svg class="a" style="left:0;top:0" width="1500" height="400"><path d="M984.9,316.4 L979.05,306.27 A11.7,11.7 0 0 1 996.60,316.40Z" fill="rgba(255,255,255,0.62)"/><path d="M984.9,316.4 L996.60,316.40 A11.7,11.7 0 0 1 988.71,327.46Z" fill="rgba(255,255,255,0.25)"/><path d="M984.9,316.4 L988.71,327.46 A11.7,11.7 0 0 1 979.05,306.27Z" fill="rgba(255,255,255,0.42)"/><polygon points="1383.5,325.9 1383.5,312.7 1389.2,320.5 1392.2,316 1395.8,311.5 1397.6,310.9 1399.1,311.8 1401.2,307.9 1403.6,310.6 1406.6,319.3 1409.6,309.4 1412.6,313.6 1415.9,306.1 1415.9,325.9" fill="rgba(255,255,255,0.3)"/><polyline points="1383.5,312.7 1389.2,320.5 1392.2,316 1395.8,311.5 1397.6,310.9 1399.1,311.8 1401.2,307.9 1403.6,310.6 1406.6,319.3 1409.6,309.4 1412.6,313.6 1415.9,306.1" fill="none" stroke="rgba(255,255,255,0.75)" stroke-width="1.2"/><circle cx="1389.2" cy="320.5" r="1.6" fill="#fff"/><circle cx="1415.9" cy="306.1" r="1.6" fill="#fff"/></svg><svg class="a" style="left:256px;top:405px;box-shadow:0 0 0 1px #fff" width="281" height="200" viewBox="0 0 281 200">
<defs>
<linearGradient id="sky" x1="0" y1="0" x2="0" y2="1"><stop offset="0" stop-color="#2d4472"/><stop offset="0.25" stop-color="#34497a"/><stop offset="0.45" stop-color="#2a385f"/><stop offset="0.62" stop-color="#222948"/><stop offset="0.8" stop-color="#211e38"/><stop offset="0.92" stop-color="#2a2236"/><stop offset="1" stop-color="#141018"/></linearGradient>
<filter id="bl" x="-50%" y="-50%" width="200%" height="200%"><feGaussianBlur stdDeviation="9"/></filter>
<filter id="bl2" x="-50%" y="-50%" width="200%" height="200%"><feGaussianBlur stdDeviation="3"/></filter>
<linearGradient id="tw" x1="0" y1="0" x2="1" y2="0"><stop offset="0" stop-color="#a8a482"/><stop offset="0.45" stop-color="#eae4c0"/><stop offset="1" stop-color="#8a8668"/></linearGradient>
<linearGradient id="rs" x1="0" y1="0" x2="0" y2="1"><stop offset="0" stop-color="#1e2846"/><stop offset="0.5" stop-color="#232541"/><stop offset="1" stop-color="#2c2132"/></linearGradient>
</defs>
<rect width="281" height="200" fill="url(#sky)"/>
<g filter="url(#bl)" opacity="0.8">
<ellipse cx="60" cy="50" rx="75" ry="13" fill="#5d72a0" transform="rotate(-32 60 50)"/>
<ellipse cx="110" cy="45" rx="70" ry="10" fill="#56699a" transform="rotate(-35 110 45)"/>
<ellipse cx="30" cy="80" rx="60" ry="10" fill="#4d6190" transform="rotate(-30 30 80)"/>
<ellipse cx="140" cy="20" rx="50" ry="10" fill="#50648f" transform="rotate(-35 140 20)"/>
<ellipse cx="10" cy="10" rx="30" ry="14" fill="#263a66"/>
<ellipse cx="70" cy="130" rx="80" ry="14" fill="#1c1f3a"/>
<ellipse cx="60" cy="108" rx="70" ry="8" fill="#3a4670" opacity="0.6" transform="rotate(-10 60 108)"/>
</g>
<rect x="194" y="0" width="87" height="186" fill="url(#rs)"/>
<g stroke="#8a94b8" stroke-width="0.7" opacity="0.55"><line x1="186" y1="0" x2="186" y2="107.4968152866242" /><line x1="191" y1="0" x2="191" y2="101.89171974522293" /><line x1="196" y1="0" x2="196" y2="96.28662420382166" /><line x1="201" y1="0" x2="201" y2="90.68152866242038" /><line x1="206" y1="0" x2="206" y2="85.07643312101911" /><line x1="211" y1="0" x2="211" y2="79.47133757961784" /><line x1="216" y1="0" x2="216" y2="73.86624203821655" /><line x1="221" y1="0" x2="221" y2="68.26114649681529" /><line x1="226" y1="0" x2="226" y2="62.656050955414" /><line x1="231" y1="0" x2="231" y2="57.05095541401274" /><line x1="236" y1="0" x2="236" y2="51.445859872611464" /><line x1="241" y1="0" x2="241" y2="45.84076433121019" /><line x1="246" y1="0" x2="246" y2="40.23566878980892" /><line x1="251" y1="0" x2="251" y2="34.63057324840764" /><line x1="256" y1="0" x2="256" y2="29.02547770700637" /><line x1="261" y1="0" x2="261" y2="23.420382165605094" /><line x1="266" y1="0" x2="266" y2="17.81528662420382" /><line x1="271" y1="0" x2="271" y2="12.210191082802547" /><line x1="276" y1="0" x2="276" y2="6.605095541401273" /></g>
<g stroke="#8a94b8" stroke-width="0.6" opacity="0.5"><line x1="162" y1="52" x2="162" y2="170"/><line x1="168" y1="52" x2="168" y2="165"/><line x1="174" y1="52" x2="174" y2="160"/></g>
<rect x="148.5" y="25.5" width="11.5" height="162" fill="url(#tw)"/>
<rect x="180.5" y="26.5" width="15" height="161" fill="url(#tw)"/>
<path d="M148.5 25.5 L195.5 26.5 L195.5 56 L180.5 56 Q170 44 160 56 L148.5 56Z" fill="#55554a"/><path d="M160 58 Q170 46 180.5 58" stroke="#d8d0a8" stroke-width="2" fill="none"/>
<path d="M159.7 150 L181 150 L181 158 L159.7 158Z" fill="#9a9478"/>
<g fill="#fff4c8"><circle cx="150.5" cy="28.6" r="0.9"/><circle cx="153.7" cy="25.4" r="0.9"/><circle cx="156.8" cy="22.2" r="0.9"/><circle cx="160.0" cy="19.1" r="0.9"/><circle cx="163.2" cy="15.9" r="0.9"/><circle cx="166.3" cy="12.7" r="0.9"/><circle cx="169.5" cy="9.5" r="0.9"/><circle cx="172.7" cy="6.4" r="0.9"/><circle cx="175.8" cy="3.2" r="0.9"/><circle cx="179.0" cy="-0.0" r="0.9"/><circle cx="181.0" cy="29.6" r="0.9"/><circle cx="184.5" cy="26.9" r="0.9"/><circle cx="188.1" cy="24.2" r="0.9"/><circle cx="191.6" cy="21.5" r="0.9"/><circle cx="195.2" cy="18.8" r="0.9"/><circle cx="198.7" cy="16.1" r="0.9"/><circle cx="202.3" cy="13.5" r="0.9"/><circle cx="205.8" cy="10.8" r="0.9"/><circle cx="209.4" cy="8.1" r="0.9"/><circle cx="212.9" cy="5.4" r="0.9"/><circle cx="216.5" cy="2.7" r="0.9"/><circle cx="220.0" cy="0.0" r="0.9"/></g>
<g fill="#d8d0a0" opacity="0.8"><circle cx="146.0" cy="70.0" r="0.7"/><circle cx="143.8" cy="77.7" r="0.7"/><circle cx="141.7" cy="85.3" r="0.7"/><circle cx="139.5" cy="93.0" r="0.7"/><circle cx="137.3" cy="100.7" r="0.7"/><circle cx="135.2" cy="108.3" r="0.7"/><circle cx="133.0" cy="116.0" r="0.7"/><circle cx="130.8" cy="123.7" r="0.7"/><circle cx="128.7" cy="131.3" r="0.7"/><circle cx="126.5" cy="139.0" r="0.7"/><circle cx="124.3" cy="146.7" r="0.7"/><circle cx="122.2" cy="154.3" r="0.7"/><circle cx="120.0" cy="162.0" r="0.7"/></g>
<path d="M281 2 C250 35 215 72 196 90 C180 104 165 113 151 124.5 C140 135 130 150 119 170 L122 188 C135 172 143 162 151 155 C165 143 180 130 196 122 C220 110 250 100 281 92Z" fill="#0d0f17"/>
<path d="M281 2 C250 35 215 72 196 90 C180 104 165 113 151 124.5 C140 135 130 150 119 170 L121 176 C132 158 142 144 152 132 C166 120 182 108 198 97 C220 78 250 50 281 26Z" fill="#23271f" opacity="0.95"/>
<path d="M122 172 C134 156 143 145 152 137 C166 125 182 114 198 103 C220 86 250 60 281 40" stroke="#a09a60" stroke-width="0.9" fill="none" stroke-dasharray="2 3" opacity="0.8"/>
<path d="M124 186 C135 172 143 162 151 155 C165 143 180 130 196 122 C220 110 250 100 281 92" stroke="#4e5470" stroke-width="1.2" fill="none" stroke-dasharray="6 3" opacity="0.9"/>
<rect x="119.5" y="159" width="3" height="26" fill="#c8c2a0"/><rect x="125" y="161" width="2.5" height="24" fill="#b8b290"/>
<rect x="0" y="185" width="281" height="15" fill="#0a0a0e"/>
<rect x="0" y="183" width="281" height="3" fill="#2a2028" opacity="0.8"/>
<g fill="#e8a040"><circle cx="8" cy="186.5" r="0.9"/><circle cx="16" cy="186.5" r="0.8"/><circle cx="22" cy="187" r="0.9"/><circle cx="30" cy="186.5" r="0.8"/><circle cx="38" cy="187" r="0.7"/><circle cx="44" cy="186.7" r="0.8"/><circle cx="232" cy="187" r="0.8"/><circle cx="240" cy="186.5" r="0.9"/><circle cx="248" cy="187" r="0.8"/><circle cx="256" cy="188" r="0.9"/><circle cx="262" cy="187" r="0.8"/><circle cx="125" cy="188" r="1.2"/></g>
<g fill="#fffbe0"><circle cx="208" cy="44" r="2"/><circle cx="192" cy="75" r="1.6"/><circle cx="181" cy="96" r="1.4"/><circle cx="262" cy="10" r="1"/></g>
<rect x="0" y="0" width="281" height="1" fill="#3a4a70"/>
</svg><div class="t" style="left:256.00px;top:442.13px;font-size:12.6px;color:#fff;font-weight:400;font-style:normal;width:281px;text-align:center;text-shadow:1px 2px 3px rgba(0,0,0,0.85),0 0 2px rgba(0,0,0,0.5);transform:scaleX(0.89);transform-origin:50% 50%">IT IS CURRENTLY</div><div class="t" style="left:256.00px;top:465.94px;font-size:25px;color:#fff;font-weight:700;font-style:normal;width:281px;text-align:center;text-shadow:1px 2px 3px rgba(0,0,0,0.85),0 0 2px rgba(0,0,0,0.5)">Tuesday</div><div class="t" style="left:256.00px;top:501.24px;font-size:25px;color:#fff;font-weight:700;font-style:normal;width:281px;text-align:center;text-shadow:1px 2px 3px rgba(0,0,0,0.85),0 0 2px rgba(0,0,0,0.5)">August 16th, 2016</div><div class="t" style="left:256.00px;top:536.04px;font-size:25px;color:#fff;font-weight:700;font-style:normal;width:281px;text-align:center;text-shadow:1px 2px 3px rgba(0,0,0,0.85),0 0 2px rgba(0,0,0,0.5)">8:24:16 PM</div><div class="a" style="left:256.00px;top:635.50px;width:281.00px;height:360.00px;background:#34495e;box-shadow:0 0 0 1px #fff;border-top:1px solid #2c3e50"></div><svg style="position:absolute;left:270.60px;top:653.00px;width:16.40px;height:15.00px;" viewBox="0 128 1663.0 1408" preserveAspectRatio="none"><path fill="#fff" d="M1408 930V1248Q1408 1367 1324 1452Q1239 1536 1120 1536H288Q169 1536 84 1452Q0 1367 0 1248V416Q0 297 84 212Q169 128 288 128H1120Q1183 128 1237 153Q1252 160 1255 176Q1258 193 1246 205L1197 254Q1187 264 1174 264Q1171 264 1165 262Q1142 256 1120 256H288Q222 256 175 303Q128 350 128 416V1248Q128 1314 175 1361Q222 1408 288 1408H1120Q1186 1408 1233 1361Q1280 1314 1280 1248V994Q1280 981 1289 972L1353 908Q1363 898 1376 898Q1382 898 1388 901Q1408 909 1408 930ZM1639 441 825 1255Q801 1279 768 1279Q735 1279 711 1255L281 825Q257 801 257 768Q257 735 281 711L391 601Q415 577 448 577Q481 577 505 601L768 864L1415 217Q1439 193 1472 193Q1505 193 1529 217L1639 327Q1663 351 1663 384Q1663 417 1639 441Z"/></svg><div class="t" style="left:292.00px;top:651.94px;font-size:18.5px;color:#fff;font-weight:400;font-style:normal;-webkit-text-stroke:0.35px #fff">To-Do List</div><div class="a" style="left:276.5px;top:695px;width:12px;height:12px;border-radius:2.5px;background:#3d9bfd"></div><svg class="a" style="left:276.5px;top:695px" width="12" height="12"><path d="M2.8 6.2 L5 8.4 L9.4 3.6" stroke="#fff" stroke-width="1.6" fill="none"/></svg><svg style="position:absolute;left:295.00px;top:694.50px;width:13.00px;height:13.02px;" viewBox="21 128 1641 1643" preserveAspectRatio="none"><path fill="#c8cdd2" d="M365 1517Q384 1498 384 1472Q384 1446 365 1427Q346 1408 320 1408Q294 1408 275 1427Q256 1446 256 1472Q256 1498 275 1517Q294 1536 320 1536Q346 1536 365 1517ZM1028 1052 346 1734Q309 1771 256 1771Q204 1771 165 1734L59 1626Q21 1590 21 1536Q21 1483 59 1445L740 764Q779 862 854 938Q930 1013 1028 1052ZM1662 617Q1662 656 1639 723Q1592 857 1474 940Q1357 1024 1216 1024Q1031 1024 900 892Q768 761 768 576Q768 391 900 260Q1031 128 1216 128Q1274 128 1338 144Q1401 161 1445 191Q1461 202 1461 219Q1461 236 1445 247L1152 416V640L1345 747Q1350 744 1424 698Q1498 653 1560 618Q1621 582 1630 582Q1645 582 1654 592Q1662 602 1662 617Z"/></svg><div class="a" style="left:289.00px;top:701.50px;width:6.00px;height:1.00px;background:#c8cdd2;"></div><div class="a" style="left:308.00px;top:701.50px;width:6.00px;height:1.00px;background:#c8cdd2;"></div><div class="t" style="left:314.00px;top:693.73px;font-size:14.5px;color:#fff;font-weight:400;font-style:normal;text-decoration:line-through;text-decoration-thickness:1px;-webkit-text-stroke:0.25px #fff;">Software Update 2.1</div><div class="t" style="left:437.00px;top:695.42px;font-size:12.5px;color:#c8cdd2;font-weight:400;font-style:italic;width:80px;text-align:right;">Yesterday</div><div class="a" style="left:276.5px;top:730px;width:12px;height:12px;border-radius:2.5px;background:#3d9bfd"></div><svg class="a" style="left:276.5px;top:730px" width="12" height="12"><path d="M2.8 6.2 L5 8.4 L9.4 3.6" stroke="#fff" stroke-width="1.6" fill="none"/></svg><svg style="position:absolute;left:295.00px;top:729.50px;width:13.00px;height:13.02px;" viewBox="21 128 1641 1643" preserveAspectRatio="none"><path fill="#c8cdd2" d="M365 1517Q384 1498 384 1472Q384 1446 365 1427Q346 1408 320 1408Q294 1408 275 1427Q256 1446 256 1472Q256 1498 275 1517Q294 1536 320 1536Q346 1536 365 1517ZM1028 1052 346 1734Q309 1771 256 1771Q204 1771 165 1734L59 1626Q21 1590 21 1536Q21 1483 59 1445L740 764Q779 862 854 938Q930 1013 1028 1052ZM1662 617Q1662 656 1639 723Q1592 857 1474 940Q1357 1024 1216 1024Q1031 1024 900 892Q768 761 768 576Q768 391 900 260Q1031 128 1216 128Q1274 128 1338 144Q1401 161 1445 191Q1461 202 1461 219Q1461 236 1445 247L1152 416V640L1345 747Q1350 744 1424 698Q1498 653 1560 618Q1621 582 1630 582Q1645 582 1654 592Q1662 602 1662 617Z"/></svg><div class="a" style="left:289.00px;top:736.50px;width:6.00px;height:1.00px;background:#c8cdd2;"></div><div class="a" style="left:308.00px;top:736.50px;width:6.00px;height:1.00px;background:#c8cdd2;"></div><div class="t" style="left:314.00px;top:728.73px;font-size:14.5px;color:#fff;font-weight:400;font-style:normal;text-decoration:line-through;text-decoration-thickness:1px;-webkit-text-stroke:0.25px #fff;">Server #2 Hardward Upgrade</div><div class="t" style="left:437.00px;top:749.42px;font-size:12.5px;color:#c8cdd2;font-weight:400;font-style:italic;width:80px;text-align:right;">9:39 AM</div><div class="a" style="left:276.5px;top:765px;width:12px;height:12px;border-radius:2.5px;background:#3d9bfd"></div><svg class="a" style="left:276.5px;top:765px" width="12" height="12"><path d="M2.8 6.2 L5 8.4 L9.4 3.6" stroke="#fff" stroke-width="1.6" fill="none"/></svg><svg style="position:absolute;left:294.50px;top:764.50px;width:14.00px;height:12.00px;" viewBox="-1.0138888888888857 0.0 1794.0277777777778 1664.0" preserveAspectRatio="none"><path fill="#f39c12" d="M1024 1375V1185Q1024 1171 1014 1162Q1005 1152 992 1152H800Q787 1152 778 1162Q768 1171 768 1185V1375Q768 1389 778 1398Q787 1408 800 1408H992Q1005 1408 1014 1398Q1024 1389 1024 1375ZM1022 1001 1040 542Q1040 530 1030 523Q1017 512 1006 512H786Q775 512 762 523Q752 530 752 544L769 1001Q769 1011 779 1018Q789 1024 803 1024H988Q1002 1024 1012 1018Q1021 1011 1022 1001ZM1008 67 1776 1475Q1811 1538 1774 1601Q1757 1630 1728 1647Q1698 1664 1664 1664H128Q94 1664 64 1647Q35 1630 18 1601Q-19 1538 16 1475L784 67Q801 36 831 18Q861 0 896 0Q931 0 961 18Q991 36 1008 67Z"/></svg><div class="a" style="left:289.00px;top:771.50px;width:6.00px;height:1.00px;background:#c8cdd2;"></div><div class="a" style="left:308.00px;top:771.50px;width:6.00px;height:1.00px;background:#c8cdd2;"></div><div class="t" style="left:314.00px;top:763.73px;font-size:14.5px;color:#fff;font-weight:400;font-style:normal;text-decoration:line-through;text-decoration-thickness:1px;-webkit-text-stroke:0.25px #fff;">Call Ticket #2032</div><div class="t" style="left:394.00px;top:765.42px;font-size:12.5px;color:#c8cdd2;font-weight:400;font-style:italic;width:80px;text-align:right;">9:53 AM</div><div class="a" style="left:276.5px;top:800px;width:12px;height:12px;border-radius:2.5px;background:#fff"></div><svg style="position:absolute;left:294.50px;top:799.50px;width:14.00px;height:12.00px;" viewBox="-1.0138888888888857 0.0 1794.0277777777778 1664.0" preserveAspectRatio="none"><path fill="#f39c12" d="M1024 1375V1185Q1024 1171 1014 1162Q1005 1152 992 1152H800Q787 1152 778 1162Q768 1171 768 1185V1375Q768 1389 778 1398Q787 1408 800 1408H992Q1005 1408 1014 1398Q1024 1389 1024 1375ZM1022 1001 1040 542Q1040 530 1030 523Q1017 512 1006 512H786Q775 512 762 523Q752 530 752 544L769 1001Q769 1011 779 1018Q789 1024 803 1024H988Q1002 1024 1012 1018Q1021 1011 1022 1001ZM1008 67 1776 1475Q1811 1538 1774 1601Q1757 1630 1728 1647Q1698 1664 1664 1664H128Q94 1664 64 1647Q35 1630 18 1601Q-19 1538 16 1475L784 67Q801 36 831 18Q861 0 896 0Q931 0 961 18Q991 36 1008 67Z"/></svg><div class="t" style="left:314.00px;top:798.73px;font-size:14.5px;color:#fff;font-weight:400;font-style:normal;-webkit-text-stroke:0.25px #fff;">Emergency Maintenance</div><div class="t" style="left:437.00px;top:819.42px;font-size:12.5px;color:#c8cdd2;font-weight:400;font-style:italic;width:80px;text-align:right;">10:14 AM</div><div class="a" style="left:276.5px;top:835px;width:12px;height:12px;border-radius:2.5px;background:#fff"></div><svg style="position:absolute;left:296.00px;top:835.00px;width:11.00px;height:11.50px;" viewBox="0 0 1536 1792" preserveAspectRatio="none"><path fill="#c8cdd2" d="M1024 512V40Q1046 54 1060 68L1468 476Q1482 490 1496 512ZM896 544Q896 584 924 612Q952 640 992 640H1536V1696Q1536 1736 1508 1764Q1480 1792 1440 1792H96Q56 1792 28 1764Q0 1736 0 1696V96Q0 56 28 28Q56 0 96 0H896Z"/></svg><div class="t" style="left:314.00px;top:833.73px;font-size:14.5px;color:#fff;font-weight:400;font-style:normal;-webkit-text-stroke:0.25px #fff;">Purchase Order #439</div><div class="t" style="left:437.00px;top:854.42px;font-size:12.5px;color:#c8cdd2;font-weight:400;font-style:italic;width:80px;text-align:right;">10:20 AM</div><div class="a" style="left:276.5px;top:870px;width:12px;height:12px;border-radius:2.5px;background:#fff"></div><svg style="position:absolute;left:295.00px;top:869.50px;width:13.00px;height:13.00px;" viewBox="0 149 1515 1515" preserveAspectRatio="none"><path fill="#c8cdd2" d="M363 1536 454 1445 219 1210 128 1301V1408H256V1536ZM886 608Q886 586 864 586Q854 586 847 593L305 1135Q298 1142 298 1152Q298 1174 320 1174Q330 1174 337 1167L879 625Q886 618 886 608ZM832 416 1248 832 416 1664H0V1248ZM1515 512Q1515 565 1478 602L1312 768L896 352L1062 187Q1098 149 1152 149Q1205 149 1243 187L1478 421Q1515 460 1515 512Z"/></svg><div class="t" style="left:314.00px;top:868.73px;font-size:14.5px;color:#fff;font-weight:400;font-style:normal;-webkit-text-stroke:0.25px #fff;">March Content Update</div><div class="t" style="left:437.00px;top:889.42px;font-size:12.5px;color:#c8cdd2;font-weight:400;font-style:italic;width:80px;text-align:right;">10:48 AM</div><div class="a" style="left:276.5px;top:905px;width:12px;height:12px;border-radius:2.5px;background:#fff"></div><svg style="position:absolute;left:295.00px;top:904.50px;width:13.00px;height:13.00px;" viewBox="27.0 0 1637.0 1637.0" preserveAspectRatio="none"><path fill="#c8cdd2" d="M1190 581 1483 288 1376 181 1083 474ZM1619 333 333 1619Q315 1637 288 1637Q261 1637 243 1619L45 1421Q27 1403 27 1376Q27 1349 45 1331L1331 45Q1349 27 1376 27Q1403 27 1421 45L1619 243Q1637 261 1637 288Q1637 315 1619 333ZM286 98 384 128 286 158 256 256 226 158 128 128 226 98 256 0ZM636 260 832 320 636 380 576 576 516 380 320 320 516 260 576 64ZM1566 738 1664 768 1566 798 1536 896 1506 798 1408 768 1506 738 1536 640ZM926 98 1024 128 926 158 896 256 866 158 768 128 866 98 896 0Z"/></svg><div class="t" style="left:314.00px;top:903.73px;font-size:14.5px;color:#fff;font-weight:400;font-style:normal;-webkit-text-stroke:0.25px #fff;">Client #42 Data</div><div class="t" style="left:437.00px;top:924.42px;font-size:12.5px;color:#c8cdd2;font-weight:400;font-style:italic;width:80px;text-align:right;">11:09 AM</div><div class="a" style="left:276.5px;top:960px;width:12px;height:12px;border-radius:2.5px;background:#fff"></div><svg style="position:absolute;left:295.00px;top:959.50px;width:13.00px;height:13.02px;" viewBox="21 128 1641 1643" preserveAspectRatio="none"><path fill="#c8cdd2" d="M365 1517Q384 1498 384 1472Q384 1446 365 1427Q346 1408 320 1408Q294 1408 275 1427Q256 1446 256 1472Q256 1498 275 1517Q294 1536 320 1536Q346 1536 365 1517ZM1028 1052 346 1734Q309 1771 256 1771Q204 1771 165 1734L59 1626Q21 1590 21 1536Q21 1483 59 1445L740 764Q779 862 854 938Q930 1013 1028 1052ZM1662 617Q1662 656 1639 723Q1592 857 1474 940Q1357 1024 1216 1024Q1031 1024 900 892Q768 761 768 576Q768 391 900 260Q1031 128 1216 128Q1274 128 1338 144Q1401 161 1445 191Q1461 202 1461 219Q1461 236 1445 247L1152 416V640L1345 747Q1350 744 1424 698Q1498 653 1560 618Q1621 582 1630 582Q1645 582 1654 592Q1662 602 1662 617Z"/></svg><div class="t" style="left:314.00px;top:958.73px;font-size:14.5px;color:#fff;font-weight:400;font-style:normal;-webkit-text-stroke:0.25px #fff;letter-spacing:-0.15px;">PHP Upgrade Server #6</div><div class="t" style="left:437.00px;top:960.42px;font-size:12.5px;color:#c8cdd2;font-weight:400;font-style:italic;width:80px;text-align:right;">11:17 AM</div><div class="t" style="left:276.00px;top:923.73px;font-size:14.5px;color:#fff;font-weight:400;font-style:normal;-webkit-text-stroke:0.25px #fff">Scrubbing</div><div class="a" style="left:567.00px;top:405.00px;width:669.75px;height:320.00px;background:#16a085;box-shadow:0 0 0 1px #fff;border-top:1px solid #138a72;border-bottom:1px solid #138a72"></div><div class="t" style="left:582.00px;top:422.16px;font-size:18px;color:#fff;font-weight:400;font-style:normal;-webkit-text-stroke:0.35px #fff">$ Revenue Breakdown</div><div class="t" style="left:582.00px;top:443.34px;font-size:12px;color:rgba(255,255,255,0.85);font-weight:400;font-style:normal;">Today: <b>$324.20</b> - Week: <b>$1,230.43</b></div><svg style="position:absolute;left:1206.00px;top:422.00px;width:16.00px;height:15.50px;" viewBox="0 128 1536 1536" preserveAspectRatio="none"><path fill="#fff" d="M1511 1056Q1511 1061 1510 1063Q1446 1331 1242 1498Q1038 1664 764 1664Q618 1664 482 1609Q345 1554 238 1452L109 1581Q90 1600 64 1600Q38 1600 19 1581Q0 1562 0 1536V1088Q0 1062 19 1043Q38 1024 64 1024H512Q538 1024 557 1043Q576 1062 576 1088Q576 1114 557 1133L420 1270Q491 1336 581 1372Q671 1408 768 1408Q902 1408 1018 1343Q1134 1278 1204 1164Q1215 1147 1257 1047Q1265 1024 1287 1024H1479Q1492 1024 1502 1034Q1511 1043 1511 1056ZM1536 256V704Q1536 730 1517 749Q1498 768 1472 768H1024Q998 768 979 749Q960 730 960 704Q960 678 979 659L1117 521Q969 384 768 384Q634 384 518 449Q402 514 332 628Q321 645 279 745Q271 768 249 768H50Q37 768 28 758Q18 749 18 736V729Q83 461 288 294Q493 128 768 128Q914 128 1052 184Q1190 239 1297 340L1427 211Q1446 192 1472 192Q1498 192 1517 211Q1536 230 1536 256Z"/></svg><svg class="a" style="left:0;top:0" width="1500" height="980"><line x1="635.3" x2="1197.02" y1="664.8" y2="664.8" stroke="rgba(255,255,255,0.28)" stroke-width="1"/><line x1="635.3" x2="1197.02" y1="621.5" y2="621.5" stroke="rgba(255,255,255,0.28)" stroke-width="1"/><line x1="635.3" x2="1197.02" y1="578.3" y2="578.3" stroke="rgba(255,255,255,0.28)" stroke-width="1"/><line x1="635.3" x2="1197.02" y1="535.0" y2="535.0" stroke="rgba(255,255,255,0.28)" stroke-width="1"/><line x1="635.3" x2="1197.02" y1="491.8" y2="491.8" stroke="rgba(255,255,255,0.28)" stroke-width="1"/><path d="M635.30,592.36 C658.70,578.73 705.51,541.16 728.92,537.86 C752.32,534.56 799.13,571.35 822.54,565.97 C845.94,560.59 892.75,498.86 916.16,494.83 C939.56,490.80 986.38,520.53 1009.78,533.75 C1033.18,546.97 1080.00,596.84 1103.40,600.57 C1126.81,604.30 1173.62,572.84 1197.02,563.59 L1197.02,664.8 L635.30,664.8Z" fill="rgba(255,255,255,0.1)"/><path d="M635.30,610.30 C658.70,597.11 705.51,559.03 728.92,557.54 C752.32,556.05 799.13,596.92 822.54,598.41 C845.94,599.90 892.75,573.79 916.16,569.43 C939.56,565.08 986.38,557.76 1009.78,563.59 C1033.18,569.43 1080.00,611.74 1103.40,616.14 C1126.81,620.55 1173.62,603.17 1197.02,598.84 L1197.02,664.8 L635.30,664.8Z" fill="rgba(255,255,255,0.1)"/><path d="M635.30,627.60 C658.70,617.06 705.51,585.73 728.92,585.44 C752.32,585.14 799.13,620.17 822.54,625.23 C845.94,630.28 892.75,629.06 916.16,625.88 C939.56,622.69 986.38,598.79 1009.78,599.71 C1033.18,600.63 1080.00,629.15 1103.40,633.23 C1126.81,637.31 1173.62,632.58 1197.02,632.36 L1197.02,664.8 L635.30,664.8Z" fill="rgba(255,255,255,0.1)"/><path d="M635.30,647.50 C658.70,638.20 705.51,610.66 728.92,610.30 C752.32,609.95 799.13,640.50 822.54,644.69 C845.94,648.88 892.75,645.42 916.16,643.82 C939.56,642.23 986.38,631.31 1009.78,631.93 C1033.18,632.55 1080.00,647.04 1103.40,648.80 C1126.81,650.55 1173.62,646.69 1197.02,645.99 L1197.02,664.8 L635.30,664.8Z" fill="rgba(255,255,255,0.1)"/><path d="M635.30,592.36 C658.70,578.73 705.51,541.16 728.92,537.86 C752.32,534.56 799.13,571.35 822.54,565.97 C845.94,560.59 892.75,498.86 916.16,494.83 C939.56,490.80 986.38,520.53 1009.78,533.75 C1033.18,546.97 1080.00,596.84 1103.40,600.57 C1126.81,604.30 1173.62,572.84 1197.02,563.59" fill="none" stroke="#fff" stroke-width="2"/><path d="M635.30,610.30 C658.70,597.11 705.51,559.03 728.92,557.54 C752.32,556.05 799.13,596.92 822.54,598.41 C845.94,599.90 892.75,573.79 916.16,569.43 C939.56,565.08 986.38,557.76 1009.78,563.59 C1033.18,569.43 1080.00,611.74 1103.40,616.14 C1126.81,620.55 1173.62,603.17 1197.02,598.84" fill="none" stroke="#fff" stroke-width="2"/><path d="M635.30,627.60 C658.70,617.06 705.51,585.73 728.92,585.44 C752.32,585.14 799.13,620.17 822.54,625.23 C845.94,630.28 892.75,629.06 916.16,625.88 C939.56,622.69 986.38,598.79 1009.78,599.71 C1033.18,600.63 1080.00,629.15 1103.40,633.23 C1126.81,637.31 1173.62,632.58 1197.02,632.36" fill="none" stroke="#fff" stroke-width="2"/><path d="M635.30,647.50 C658.70,638.20 705.51,610.66 728.92,610.30 C752.32,609.95 799.13,640.50 822.54,644.69 C845.94,648.88 892.75,645.42 916.16,643.82 C939.56,642.23 986.38,631.31 1009.78,631.93 C1033.18,632.55 1080.00,647.04 1103.40,648.80 C1126.81,650.55 1173.62,646.69 1197.02,645.99" fill="none" stroke="#fff" stroke-width="2"/></svg><div class="t" style="left:560.00px;top:658.94px;font-size:12px;color:rgba(255,255,255,0.72);font-weight:400;font-style:normal;width:62.5px;text-align:right;">$0</div><div class="t" style="left:560.00px;top:615.69px;font-size:12px;color:rgba(255,255,255,0.72);font-weight:400;font-style:normal;width:62.5px;text-align:right;">$200</div><div class="t" style="left:560.00px;top:572.44px;font-size:12px;color:rgba(255,255,255,0.72);font-weight:400;font-style:normal;width:62.5px;text-align:right;">$400</div><div class="t" style="left:560.00px;top:529.19px;font-size:12px;color:rgba(255,255,255,0.72);font-weight:400;font-style:normal;width:62.5px;text-align:right;">$600</div><div class="t" style="left:560.00px;top:485.94px;font-size:12px;color:rgba(255,255,255,0.72);font-weight:400;font-style:normal;width:62.5px;text-align:right;">$800</div><div class="t" style="left:595.30px;top:679.84px;font-size:12px;color:rgba(255,255,255,0.72);font-weight:400;font-style:normal;width:80px;text-align:center;">1/25/2014</div><div class="t" style="left:688.92px;top:679.84px;font-size:12px;color:rgba(255,255,255,0.72);font-weight:400;font-style:normal;width:80px;text-align:center;">1/26/2014</div><div class="t" style="left:782.54px;top:679.84px;font-size:12px;color:rgba(255,255,255,0.72);font-weight:400;font-style:normal;width:80px;text-align:center;">1/27/2014</div><div class="t" style="left:876.16px;top:679.84px;font-size:12px;color:rgba(255,255,255,0.72);font-weight:400;font-style:normal;width:80px;text-align:center;">1/28/2014</div><div class="t" style="left:969.78px;top:679.84px;font-size:12px;color:rgba(255,255,255,0.72);font-weight:400;font-style:normal;width:80px;text-align:center;">1/29/2014</div><div class="t" style="left:1063.40px;top:679.84px;font-size:12px;color:rgba(255,255,255,0.72);font-weight:400;font-style:normal;width:80px;text-align:center;">1/30/2014</div><div class="a" style="left:1266.75px;top:405.00px;width:203.25px;height:320.00px;background:#bdc3c7;box-shadow:0 0 0 1px #fff;border-top:1px solid #b2b9bd;border-bottom:1px solid #b2b9bd"></div><svg style="position:absolute;left:1281.60px;top:422.50px;width:9.90px;height:17.50px;" viewBox="-0.08695652173913082 128 896.2593703148426 1664" preserveAspectRatio="none"><path fill="#fff" d="M885 566Q903 586 892 610L352 1767Q339 1792 310 1792Q306 1792 296 1790Q279 1785 270 1771Q262 1757 266 1741L463 933L57 1034Q53 1035 45 1035Q27 1035 14 1024Q-4 1009 1 985L202 160Q206 146 218 137Q230 128 246 128H574Q593 128 606 140Q619 153 619 170Q619 178 614 188L443 651L839 553Q847 551 851 551Q870 551 885 566Z"/></svg><div class="t" style="left:1295.00px;top:422.46px;font-size:18px;color:#fff;font-weight:400;font-style:normal;-webkit-text-stroke:0.35px #fff">Server Load</div><div class="t" style="left:1282.00px;top:443.14px;font-size:12px;color:rgba(255,255,255,0.85);font-weight:400;font-style:normal;"><b>130 GB</b> of <b>1024 GB</b> used</div><svg style="position:absolute;left:1439.50px;top:422.00px;width:15.50px;height:15.50px;" viewBox="0 128 1536 1536" preserveAspectRatio="none"><path fill="#fff" d="M1511 1056Q1511 1061 1510 1063Q1446 1331 1242 1498Q1038 1664 764 1664Q618 1664 482 1609Q345 1554 238 1452L109 1581Q90 1600 64 1600Q38 1600 19 1581Q0 1562 0 1536V1088Q0 1062 19 1043Q38 1024 64 1024H512Q538 1024 557 1043Q576 1062 576 1088Q576 1114 557 1133L420 1270Q491 1336 581 1372Q671 1408 768 1408Q902 1408 1018 1343Q1134 1278 1204 1164Q1215 1147 1257 1047Q1265 1024 1287 1024H1479Q1492 1024 1502 1034Q1511 1043 1511 1056ZM1536 256V704Q1536 730 1517 749Q1498 768 1472 768H1024Q998 768 979 749Q960 730 960 704Q960 678 979 659L1117 521Q969 384 768 384Q634 384 518 449Q402 514 332 628Q321 645 279 745Q271 768 249 768H50Q37 768 28 758Q18 749 18 736V729Q83 461 288 294Q493 128 768 128Q914 128 1052 184Q1190 239 1297 340L1427 211Q1446 192 1472 192Q1498 192 1517 211Q1536 230 1536 256Z"/></svg><svg class="a" style="left:0;top:0" width="1500" height="980"><line x1="1292.2" x2="1292.2" y1="477.5" y2="697" stroke="#a9b0b5" stroke-width="1"/><line x1="1355.5" x2="1355.5" y1="477.5" y2="697" stroke="#a9b0b5" stroke-width="1"/><line x1="1419.2" x2="1419.2" y1="477.5" y2="697" stroke="#a9b0b5" stroke-width="1"/><polygon points="1292.4,697.2 1292.4,619 1304.6,623 1329.8,629.2 1343,622.6 1355.6,626.7 1368.2,624.6 1394,639 1406.6,636.6 1419.6,641.4 1432.5,634 1444.8,637.2 1444.8,697.2" fill="rgba(255,255,255,0.42)"/><polyline points="1292.4,619 1304.6,623 1329.8,629.2 1343,622.6 1355.6,626.7 1368.2,624.6 1394,639 1406.6,636.6 1419.6,641.4 1432.5,634 1444.8,637.2" fill="none" stroke="#fff" stroke-width="2.2"/></svg><div class="a" style="left:567.00px;top:755.50px;width:203.25px;height:240.00px;background:#f39c12;box-shadow:0 0 0 1px #fff;border:1px solid #f08a00"></div><svg style="position:absolute;left:583.50px;top:776.00px;width:19.80px;height:13.00px;" viewBox="0 128 1920 1408" preserveAspectRatio="none"><path fill="#fff" d="M1920 1152Q1920 1311 1808 1424Q1695 1536 1536 1536H448Q263 1536 132 1404Q0 1273 0 1088Q0 956 71 846Q142 737 258 683Q256 655 256 640Q256 428 406 278Q556 128 768 128Q926 128 1054 216Q1183 304 1242 446Q1312 384 1408 384Q1514 384 1589 459Q1664 534 1664 640Q1664 715 1623 778Q1752 808 1836 912Q1920 1017 1920 1152Z"/></svg><div class="t" style="left:609.50px;top:772.06px;font-size:18px;color:#fff;font-weight:400;font-style:normal;-webkit-text-stroke:0.35px #fff">Data Usage</div><div class="a" style="left:800.25px;top:755.50px;width:203.25px;height:240.00px;background:#2980b9;box-shadow:0 0 0 1px #fff;border:1px solid #1266ae"></div><svg style="position:absolute;left:819.20px;top:776.50px;width:15.30px;height:12.50px;" viewBox="121.0 334.0 1550.0 1188.0" preserveAspectRatio="none"><path fill="#fff" d="M1643 634 919 1358 783 1494Q755 1522 715 1522Q675 1522 647 1494L511 1358L149 996Q121 968 121 928Q121 888 149 860L285 724Q313 696 353 696Q393 696 421 724L715 1019L1371 362Q1399 334 1439 334Q1479 334 1507 362L1643 498Q1671 526 1671 566Q1671 606 1643 634Z"/></svg><div class="t" style="left:842.80px;top:772.06px;font-size:18px;color:#fff;font-weight:400;font-style:normal;-webkit-text-stroke:0.35px #fff">Satisfaction Score</div><div class="a" style="left:1033.50px;top:755.50px;width:203.25px;height:240.00px;background:#e74c3c;box-shadow:0 0 0 1px #fff;border:1px solid #e8301c"></div><svg style="position:absolute;left:1052.00px;top:774.50px;width:16.00px;height:16.00px;" viewBox="0.0 128.0 1536.0 1536.0" preserveAspectRatio="none"><path fill="#fff" d="M1266 852 1175 761Q1157 743 1130 743Q1103 743 1085 761L896 950V448Q896 422 877 403Q858 384 832 384H704Q678 384 659 403Q640 422 640 448V950L451 761Q432 742 406 742Q380 742 361 761L270 852Q252 870 252 897Q252 924 270 942L632 1304L723 1395Q741 1413 768 1413Q795 1413 813 1395L904 1304L1266 942Q1284 924 1284 897Q1284 870 1266 852ZM1433 510Q1536 687 1536 896Q1536 1105 1433 1282Q1330 1458 1154 1561Q977 1664 768 1664Q559 1664 382 1561Q206 1458 103 1282Q0 1105 0 896Q0 687 103 510Q206 334 382 231Q559 128 768 128Q977 128 1154 231Q1330 334 1433 510Z"/></svg><div class="t" style="left:1076.50px;top:772.06px;font-size:18px;color:#fff;font-weight:400;font-style:normal;-webkit-text-stroke:0.35px #fff">Bounce Rate</div><div class="a" style="left:1266.75px;top:755.50px;width:203.25px;height:240.00px;background:#8e44ad;box-shadow:0 0 0 1px #fff;border:1px solid #7a2aa2"></div><svg style="position:absolute;left:1285.70px;top:775.00px;width:16.90px;height:15.00px;" viewBox="0.0 256 1664.0 1408.0" preserveAspectRatio="none"><path fill="#fff" d="M602 1446Q640 1484 640 1536Q640 1588 602 1626Q564 1664 512 1664Q460 1664 422 1626Q384 1588 384 1536Q384 1484 422 1446Q460 1408 512 1408Q564 1408 602 1446ZM1498 1446Q1536 1484 1536 1536Q1536 1588 1498 1626Q1460 1664 1408 1664Q1356 1664 1318 1626Q1280 1588 1280 1536Q1280 1484 1318 1446Q1356 1408 1408 1408Q1460 1408 1498 1446ZM1664 448V960Q1664 984 1648 1002Q1631 1021 1607 1024L563 1146Q576 1206 576 1216Q576 1232 552 1280H1472Q1498 1280 1517 1299Q1536 1318 1536 1344Q1536 1370 1517 1389Q1498 1408 1472 1408H448Q422 1408 403 1389Q384 1370 384 1344Q384 1333 392 1312Q400 1292 408 1276Q416 1261 430 1236Q443 1212 445 1207L268 384H64Q38 384 19 365Q0 346 0 320Q0 294 19 275Q38 256 64 256H320Q336 256 348 262Q361 269 368 278Q375 287 381 302Q387 318 389 328Q391 339 394 358Q398 377 399 384H1600Q1626 384 1645 403Q1664 422 1664 448Z"/></svg><div class="t" style="left:1309.70px;top:772.06px;font-size:18px;color:#fff;font-weight:400;font-style:normal;-webkit-text-stroke:0.35px #fff">Abandoned Carts</div><svg class="a" style="left:0;top:0" width="1500" height="980"><circle cx="669.1" cy="892.7" r="70" fill="none" stroke="rgba(255,255,255,0.48)" stroke-width="20"/><path d="M669.1,822.7 A70,70 0 1 1 615.16,848.08" fill="none" stroke="rgba(255,255,255,0.54)" stroke-width="20" stroke-linecap="round"/><line x1="669.10" y1="810.20" x2="669.10" y2="805.20" stroke="rgba(255,255,255,0.55)" stroke-width="1"/><line x1="690.84" y1="811.56" x2="691.75" y2="808.18" stroke="rgba(255,255,255,0.55)" stroke-width="1"/><line x1="711.10" y1="819.95" x2="712.85" y2="816.92" stroke="rgba(255,255,255,0.55)" stroke-width="1"/><line x1="728.50" y1="833.30" x2="730.97" y2="830.83" stroke="rgba(255,255,255,0.55)" stroke-width="1"/><line x1="741.85" y1="850.70" x2="744.88" y2="848.95" stroke="rgba(255,255,255,0.55)" stroke-width="1"/><line x1="750.24" y1="870.96" x2="753.62" y2="870.05" stroke="rgba(255,255,255,0.55)" stroke-width="1"/><line x1="751.60" y1="892.70" x2="756.60" y2="892.70" stroke="rgba(255,255,255,0.55)" stroke-width="1"/><line x1="750.24" y1="914.44" x2="753.62" y2="915.35" stroke="rgba(255,255,255,0.55)" stroke-width="1"/><line x1="741.85" y1="934.70" x2="744.88" y2="936.45" stroke="rgba(255,255,255,0.55)" stroke-width="1"/><line x1="728.50" y1="952.10" x2="730.97" y2="954.57" stroke="rgba(255,255,255,0.55)" stroke-width="1"/><line x1="711.10" y1="965.45" x2="712.85" y2="968.48" stroke="rgba(255,255,255,0.55)" stroke-width="1"/><line x1="690.84" y1="973.84" x2="691.75" y2="977.22" stroke="rgba(255,255,255,0.55)" stroke-width="1"/><line x1="669.10" y1="975.20" x2="669.10" y2="980.20" stroke="rgba(255,255,255,0.55)" stroke-width="1"/><line x1="647.36" y1="973.84" x2="646.45" y2="977.22" stroke="rgba(255,255,255,0.55)" stroke-width="1"/><line x1="627.10" y1="965.45" x2="625.35" y2="968.48" stroke="rgba(255,255,255,0.55)" stroke-width="1"/><line x1="609.70" y1="952.10" x2="607.23" y2="954.57" stroke="rgba(255,255,255,0.55)" stroke-width="1"/><line x1="596.35" y1="934.70" x2="593.32" y2="936.45" stroke="rgba(255,255,255,0.55)" stroke-width="1"/><line x1="587.96" y1="914.44" x2="584.58" y2="915.35" stroke="rgba(255,255,255,0.55)" stroke-width="1"/><line x1="586.60" y1="892.70" x2="581.60" y2="892.70" stroke="rgba(255,255,255,0.55)" stroke-width="1"/><line x1="587.96" y1="870.96" x2="584.58" y2="870.05" stroke="rgba(255,255,255,0.55)" stroke-width="1"/><line x1="596.35" y1="850.70" x2="593.32" y2="848.95" stroke="rgba(255,255,255,0.55)" stroke-width="1"/><line x1="609.70" y1="833.30" x2="607.23" y2="830.83" stroke="rgba(255,255,255,0.55)" stroke-width="1"/><line x1="627.10" y1="819.95" x2="625.35" y2="816.92" stroke="rgba(255,255,255,0.55)" stroke-width="1"/><line x1="647.36" y1="811.56" x2="646.45" y2="808.18" stroke="rgba(255,255,255,0.55)" stroke-width="1"/><circle cx="902.35" cy="892.7" r="70" fill="none" stroke="rgba(255,255,255,0.48)" stroke-width="20"/><path d="M902.35,822.7 A70,70 0 1 1 868.63,831.36" fill="none" stroke="rgba(255,255,255,0.54)" stroke-width="20" stroke-linecap="round"/><line x1="902.35" y1="810.20" x2="902.35" y2="805.20" stroke="rgba(255,255,255,0.55)" stroke-width="1"/><line x1="924.09" y1="811.56" x2="925.00" y2="808.18" stroke="rgba(255,255,255,0.55)" stroke-width="1"/><line x1="944.35" y1="819.95" x2="946.10" y2="816.92" stroke="rgba(255,255,255,0.55)" stroke-width="1"/><line x1="961.75" y1="833.30" x2="964.22" y2="830.83" stroke="rgba(255,255,255,0.55)" stroke-width="1"/><line x1="975.10" y1="850.70" x2="978.13" y2="848.95" stroke="rgba(255,255,255,0.55)" stroke-width="1"/><line x1="983.49" y1="870.96" x2="986.87" y2="870.05" stroke="rgba(255,255,255,0.55)" stroke-width="1"/><line x1="984.85" y1="892.70" x2="989.85" y2="892.70" stroke="rgba(255,255,255,0.55)" stroke-width="1"/><line x1="983.49" y1="914.44" x2="986.87" y2="915.35" stroke="rgba(255,255,255,0.55)" stroke-width="1"/><line x1="975.10" y1="934.70" x2="978.13" y2="936.45" stroke="rgba(255,255,255,0.55)" stroke-width="1"/><line x1="961.75" y1="952.10" x2="964.22" y2="954.57" stroke="rgba(255,255,255,0.55)" stroke-width="1"/><line x1="944.35" y1="965.45" x2="946.10" y2="968.48" stroke="rgba(255,255,255,0.55)" stroke-width="1"/><line x1="924.09" y1="973.84" x2="925.00" y2="977.22" stroke="rgba(255,255,255,0.55)" stroke-width="1"/><line x1="902.35" y1="975.20" x2="902.35" y2="980.20" stroke="rgba(255,255,255,0.55)" stroke-width="1"/><line x1="880.61" y1="973.84" x2="879.70" y2="977.22" stroke="rgba(255,255,255,0.55)" stroke-width="1"/><line x1="860.35" y1="965.45" x2="858.60" y2="968.48" stroke="rgba(255,255,255,0.55)" stroke-width="1"/><line x1="842.95" y1="952.10" x2="840.48" y2="954.57" stroke="rgba(255,255,255,0.55)" stroke-width="1"/><line x1="829.60" y1="934.70" x2="826.57" y2="936.45" stroke="rgba(255,255,255,0.55)" stroke-width="1"/><line x1="821.21" y1="914.44" x2="817.83" y2="915.35" stroke="rgba(255,255,255,0.55)" stroke-width="1"/><line x1="819.85" y1="892.70" x2="814.85" y2="892.70" stroke="rgba(255,255,255,0.55)" stroke-width="1"/><line x1="821.21" y1="870.96" x2="817.83" y2="870.05" stroke="rgba(255,255,255,0.55)" stroke-width="1"/><line x1="829.60" y1="850.70" x2="826.57" y2="848.95" stroke="rgba(255,255,255,0.55)" stroke-width="1"/><line x1="842.95" y1="833.30" x2="840.48" y2="830.83" stroke="rgba(255,255,255,0.55)" stroke-width="1"/><line x1="860.35" y1="819.95" x2="858.60" y2="816.92" stroke="rgba(255,255,255,0.55)" stroke-width="1"/><line x1="880.61" y1="811.56" x2="879.70" y2="808.18" stroke="rgba(255,255,255,0.55)" stroke-width="1"/><circle cx="1135.6" cy="892.7" r="70" fill="none" stroke="rgba(255,255,255,0.48)" stroke-width="20"/><path d="M1135.6,822.7 A70,70 0 0 1 1205.05,901.47" fill="none" stroke="rgba(255,255,255,0.54)" stroke-width="20" stroke-linecap="round"/><line x1="1135.60" y1="810.20" x2="1135.60" y2="805.20" stroke="rgba(255,255,255,0.55)" stroke-width="1"/><line x1="1157.34" y1="811.56" x2="1158.25" y2="808.18" stroke="rgba(255,255,255,0.55)" stroke-width="1"/><line x1="1177.60" y1="819.95" x2="1179.35" y2="816.92" stroke="rgba(255,255,255,0.55)" stroke-width="1"/><line x1="1195.00" y1="833.30" x2="1197.47" y2="830.83" stroke="rgba(255,255,255,0.55)" stroke-width="1"/><line x1="1208.35" y1="850.70" x2="1211.38" y2="848.95" stroke="rgba(255,255,255,0.55)" stroke-width="1"/><line x1="1216.74" y1="870.96" x2="1220.12" y2="870.05" stroke="rgba(255,255,255,0.55)" stroke-width="1"/><line x1="1218.10" y1="892.70" x2="1223.10" y2="892.70" stroke="rgba(255,255,255,0.55)" stroke-width="1"/><line x1="1216.74" y1="914.44" x2="1220.12" y2="915.35" stroke="rgba(255,255,255,0.55)" stroke-width="1"/><line x1="1208.35" y1="934.70" x2="1211.38" y2="936.45" stroke="rgba(255,255,255,0.55)" stroke-width="1"/><line x1="1195.00" y1="952.10" x2="1197.47" y2="954.57" stroke="rgba(255,255,255,0.55)" stroke-width="1"/><line x1="1177.60" y1="965.45" x2="1179.35" y2="968.48" stroke="rgba(255,255,255,0.55)" stroke-width="1"/><line x1="1157.34" y1="973.84" x2="1158.25" y2="977.22" stroke="rgba(255,255,255,0.55)" stroke-width="1"/><line x1="1135.60" y1="975.20" x2="1135.60" y2="980.20" stroke="rgba(255,255,255,0.55)" stroke-width="1"/><line x1="1113.86" y1="973.84" x2="1112.95" y2="977.22" stroke="rgba(255,255,255,0.55)" stroke-width="1"/><line x1="1093.60" y1="965.45" x2="1091.85" y2="968.48" stroke="rgba(255,255,255,0.55)" stroke-width="1"/><line x1="1076.20" y1="952.10" x2="1073.73" y2="954.57" stroke="rgba(255,255,255,0.55)" stroke-width="1"/><line x1="1062.85" y1="934.70" x2="1059.82" y2="936.45" stroke="rgba(255,255,255,0.55)" stroke-width="1"/><line x1="1054.46" y1="914.44" x2="1051.08" y2="915.35" stroke="rgba(255,255,255,0.55)" stroke-width="1"/><line x1="1053.10" y1="892.70" x2="1048.10" y2="892.70" stroke="rgba(255,255,255,0.55)" stroke-width="1"/><line x1="1054.46" y1="870.96" x2="1051.08" y2="870.05" stroke="rgba(255,255,255,0.55)" stroke-width="1"/><line x1="1062.85" y1="850.70" x2="1059.82" y2="848.95" stroke="rgba(255,255,255,0.55)" stroke-width="1"/><line x1="1076.20" y1="833.30" x2="1073.73" y2="830.83" stroke="rgba(255,255,255,0.55)" stroke-width="1"/><line x1="1093.60" y1="819.95" x2="1091.85" y2="816.92" stroke="rgba(255,255,255,0.55)" stroke-width="1"/><line x1="1113.86" y1="811.56" x2="1112.95" y2="808.18" stroke="rgba(255,255,255,0.55)" stroke-width="1"/><circle cx="1368.85" cy="892.7" r="70" fill="none" stroke="rgba(255,255,255,0.48)" stroke-width="20"/><path d="M1368.85,822.7 A70,70 0 0 1 1425.48,933.84" fill="none" stroke="rgba(255,255,255,0.54)" stroke-width="20" stroke-linecap="round"/><line x1="1368.85" y1="810.20" x2="1368.85" y2="805.20" stroke="rgba(255,255,255,0.55)" stroke-width="1"/><line x1="1390.59" y1="811.56" x2="1391.50" y2="808.18" stroke="rgba(255,255,255,0.55)" stroke-width="1"/><line x1="1410.85" y1="819.95" x2="1412.60" y2="816.92" stroke="rgba(255,255,255,0.55)" stroke-width="1"/><line x1="1428.25" y1="833.30" x2="1430.72" y2="830.83" stroke="rgba(255,255,255,0.55)" stroke-width="1"/><line x1="1441.60" y1="850.70" x2="1444.63" y2="848.95" stroke="rgba(255,255,255,0.55)" stroke-width="1"/><line x1="1449.99" y1="870.96" x2="1453.37" y2="870.05" stroke="rgba(255,255,255,0.55)" stroke-width="1"/><line x1="1451.35" y1="892.70" x2="1456.35" y2="892.70" stroke="rgba(255,255,255,0.55)" stroke-width="1"/><line x1="1449.99" y1="914.44" x2="1453.37" y2="915.35" stroke="rgba(255,255,255,0.55)" stroke-width="1"/><line x1="1441.60" y1="934.70" x2="1444.63" y2="936.45" stroke="rgba(255,255,255,0.55)" stroke-width="1"/><line x1="1428.25" y1="952.10" x2="1430.72" y2="954.57" stroke="rgba(255,255,255,0.55)" stroke-width="1"/><line x1="1410.85" y1="965.45" x2="1412.60" y2="968.48" stroke="rgba(255,255,255,0.55)" stroke-width="1"/><line x1="1390.59" y1="973.84" x2="1391.50" y2="977.22" stroke="rgba(255,255,255,0.55)" stroke-width="1"/><line x1="1368.85" y1="975.20" x2="1368.85" y2="980.20" stroke="rgba(255,255,255,0.55)" stroke-width="1"/><line x1="1347.11" y1="973.84" x2="1346.20" y2="977.22" stroke="rgba(255,255,255,0.55)" stroke-width="1"/><line x1="1326.85" y1="965.45" x2="1325.10" y2="968.48" stroke="rgba(255,255,255,0.55)" stroke-width="1"/><line x1="1309.45" y1="952.10" x2="1306.98" y2="954.57" stroke="rgba(255,255,255,0.55)" stroke-width="1"/><line x1="1296.10" y1="934.70" x2="1293.07" y2="936.45" stroke="rgba(255,255,255,0.55)" stroke-width="1"/><line x1="1287.71" y1="914.44" x2="1284.33" y2="915.35" stroke="rgba(255,255,255,0.55)" stroke-width="1"/><line x1="1286.35" y1="892.70" x2="1281.35" y2="892.70" stroke="rgba(255,255,255,0.55)" stroke-width="1"/><line x1="1287.71" y1="870.96" x2="1284.33" y2="870.05" stroke="rgba(255,255,255,0.55)" stroke-width="1"/><line x1="1296.10" y1="850.70" x2="1293.07" y2="848.95" stroke="rgba(255,255,255,0.55)" stroke-width="1"/><line x1="1309.45" y1="833.30" x2="1306.98" y2="830.83" stroke="rgba(255,255,255,0.55)" stroke-width="1"/><line x1="1326.85" y1="819.95" x2="1325.10" y2="816.92" stroke="rgba(255,255,255,0.55)" stroke-width="1"/><line x1="1347.11" y1="811.56" x2="1346.20" y2="808.18" stroke="rgba(255,255,255,0.55)" stroke-width="1"/></svg><div class="t" style="left:567.00px;top:880.14px;font-size:27px;color:rgba(255,255,255,0.75);font-weight:700;font-style:normal;width:204px;text-align:center;">86<span style="font-size:23px">%</span></div><div class="t" style="left:800.25px;top:880.14px;font-size:27px;color:rgba(255,255,255,0.75);font-weight:700;font-style:normal;width:204px;text-align:center;">92<span style="font-size:23px">%</span></div><div class="t" style="left:1033.50px;top:880.14px;font-size:27px;color:rgba(255,255,255,0.75);font-weight:700;font-style:normal;width:204px;text-align:center;">27<span style="font-size:23px">%</span></div><div class="t" style="left:1266.75px;top:880.14px;font-size:27px;color:rgba(255,255,255,0.75);font-weight:700;font-style:normal;width:204px;text-align:center;">35<span style="font-size:23px">%</span></div>
</body></html>
